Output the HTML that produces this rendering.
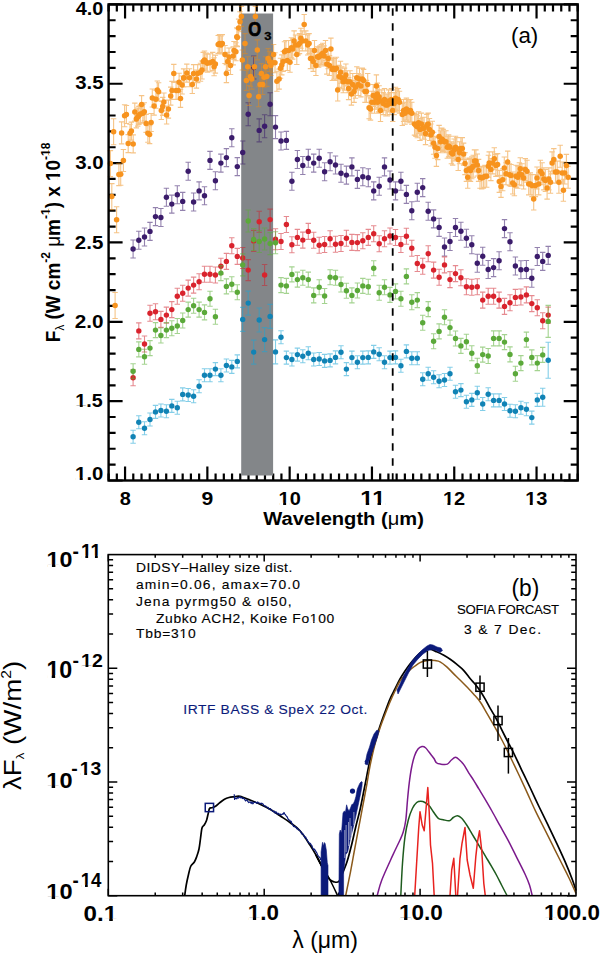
<!DOCTYPE html>
<html><head><meta charset="utf-8"><title>Figure</title>
<style>html,body{margin:0;padding:0;background:#fff;}body{width:600px;height:953px;overflow:hidden;font-family:'Liberation Sans',sans-serif}</style>
</head><body>
<svg width="600" height="953" viewBox="0 0 600 953" style="display:block;font-family:'Liberation Sans',sans-serif">
<rect width="600" height="953" fill="#fff"/>
<path d="M108.6 480.5v-7M108.6 4.4v7M116.83 480.5v-7M116.83 4.4v7M125.06 480.5v-14M125.06 4.4v14M133.29 480.5v-7M133.29 4.4v7M141.52 480.5v-7M141.52 4.4v7M149.75 480.5v-7M149.75 4.4v7M157.98 480.5v-7M157.98 4.4v7M166.21 480.5v-7M166.21 4.4v7M174.44 480.5v-7M174.44 4.4v7M182.67 480.5v-7M182.67 4.4v7M190.9 480.5v-7M190.9 4.4v7M199.13 480.5v-7M199.13 4.4v7M207.36 480.5v-14M207.36 4.4v14M215.59 480.5v-7M215.59 4.4v7M223.82 480.5v-7M223.82 4.4v7M232.05 480.5v-7M232.05 4.4v7M240.28 480.5v-7M240.28 4.4v7M248.51 480.5v-7M248.51 4.4v7M256.74 480.5v-7M256.74 4.4v7M264.97 480.5v-7M264.97 4.4v7M273.2 480.5v-7M273.2 4.4v7M281.43 480.5v-7M281.43 4.4v7M289.66 480.5v-14M289.66 4.4v14M297.89 480.5v-7M297.89 4.4v7M306.12 480.5v-7M306.12 4.4v7M314.35 480.5v-7M314.35 4.4v7M322.58 480.5v-7M322.58 4.4v7M330.81 480.5v-7M330.81 4.4v7M339.04 480.5v-7M339.04 4.4v7M347.26 480.5v-7M347.26 4.4v7M355.49 480.5v-7M355.49 4.4v7M363.72 480.5v-7M363.72 4.4v7M371.95 480.5v-14M371.95 4.4v14M380.18 480.5v-7M380.18 4.4v7M388.41 480.5v-7M388.41 4.4v7M396.64 480.5v-7M396.64 4.4v7M404.87 480.5v-7M404.87 4.4v7M413.1 480.5v-7M413.1 4.4v7M421.33 480.5v-7M421.33 4.4v7M429.56 480.5v-7M429.56 4.4v7M437.79 480.5v-7M437.79 4.4v7M446.02 480.5v-7M446.02 4.4v7M454.25 480.5v-14M454.25 4.4v14M462.48 480.5v-7M462.48 4.4v7M470.71 480.5v-7M470.71 4.4v7M478.94 480.5v-7M478.94 4.4v7M487.17 480.5v-7M487.17 4.4v7M495.4 480.5v-7M495.4 4.4v7M503.63 480.5v-7M503.63 4.4v7M511.86 480.5v-7M511.86 4.4v7M520.09 480.5v-7M520.09 4.4v7M528.32 480.5v-7M528.32 4.4v7M536.55 480.5v-14M536.55 4.4v14M544.78 480.5v-7M544.78 4.4v7M553.01 480.5v-7M553.01 4.4v7M561.24 480.5v-7M561.24 4.4v7M569.47 480.5v-7M569.47 4.4v7M577.7 480.5v-7M577.7 4.4v7M108.6 480.5h14M577.7 480.5h-14M108.6 464.63h7M577.7 464.63h-7M108.6 448.76h7M577.7 448.76h-7M108.6 432.89h7M577.7 432.89h-7M108.6 417.02h7M577.7 417.02h-7M108.6 401.15h14M577.7 401.15h-14M108.6 385.28h7M577.7 385.28h-7M108.6 369.41h7M577.7 369.41h-7M108.6 353.54h7M577.7 353.54h-7M108.6 337.67h7M577.7 337.67h-7M108.6 321.8h14M577.7 321.8h-14M108.6 305.93h7M577.7 305.93h-7M108.6 290.06h7M577.7 290.06h-7M108.6 274.19h7M577.7 274.19h-7M108.6 258.32h7M577.7 258.32h-7M108.6 242.45h14M577.7 242.45h-14M108.6 226.58h7M577.7 226.58h-7M108.6 210.71h7M577.7 210.71h-7M108.6 194.84h7M577.7 194.84h-7M108.6 178.97h7M577.7 178.97h-7M108.6 163.1h14M577.7 163.1h-14M108.6 147.23h7M577.7 147.23h-7M108.6 131.36h7M577.7 131.36h-7M108.6 115.49h7M577.7 115.49h-7M108.6 99.62h7M577.7 99.62h-7M108.6 83.75h14M577.7 83.75h-14M108.6 67.88h7M577.7 67.88h-7M108.6 52.01h7M577.7 52.01h-7M108.6 36.14h7M577.7 36.14h-7M108.6 20.27h7M577.7 20.27h-7M108.6 4.4h14M577.7 4.4h-14" stroke="#000" stroke-width="2.2" fill="none"/>
<rect x="241.2" y="13.5" width="31.9" height="462" fill="#838689"/>
<path d="M133.1 240v18M130.4 240h5.4M130.4 258h5.4M138.8 231.2v18M136.1 231.2h5.4M136.1 249.2h5.4M144.5 228v18M141.8 228h5.4M141.8 246h5.4M150 222.4v18M147.3 222.4h5.4M147.3 240.4h5.4M155.5 207.6v18M152.8 207.6h5.4M152.8 225.6h5.4M160.9 208.5v18M158.2 208.5h5.4M158.2 226.5h5.4M166.4 188.2v18M163.7 188.2h5.4M163.7 206.2h5.4M171.8 195.1v18M169.1 195.1h5.4M169.1 213.1h5.4M177.3 185.7v18M174.6 185.7h5.4M174.6 203.7h5.4M182.7 192.4v18M180 192.4h5.4M180 210.4h5.4M188.2 162.3v18M185.5 162.3h5.4M185.5 180.3h5.4M193.6 193v18M190.9 193h5.4M190.9 211h5.4M199.1 181.9v18M196.4 181.9h5.4M196.4 199.9h5.4M204.5 186.8v18M201.8 186.8h5.4M201.8 204.8h5.4M210 151.4v18M207.3 151.4h5.4M207.3 169.4h5.4M215.4 171.8v18M212.7 171.8h5.4M212.7 189.8h5.4M220.9 154.1v18M218.2 154.1h5.4M218.2 172.1h5.4M226.4 148.6v18M223.7 148.6h5.4M223.7 166.6h5.4M231.8 128.7v18M229.1 128.7h5.4M229.1 146.7h5.4M237.3 157.6v18M234.6 157.6h5.4M234.6 175.6h5.4M242.7 141v23M240 141h5.4M240 164h5.4M248.2 102.8v23M245.5 102.8h5.4M245.5 125.8h5.4M253.7 56v23M251 56h5.4M251 79h5.4M259.2 118.9v23M256.5 118.9h5.4M256.5 141.9h5.4M264.6 114.8v23M261.9 114.8h5.4M261.9 137.8h5.4M270.1 92.7v23M267.4 92.7h5.4M267.4 115.7h5.4M275.5 115.6v23M272.8 115.6h5.4M272.8 138.6h5.4M281 132v18M278.3 132h5.4M278.3 150h5.4M286.4 131.4v18M283.7 131.4h5.4M283.7 149.4h5.4M291.9 172.3v18M289.2 172.3h5.4M289.2 190.3h5.4M297.4 150.5v18M294.7 150.5h5.4M294.7 168.5h5.4M302.8 156.5v18M300.1 156.5h5.4M300.1 174.5h5.4M308.3 149.2v18M305.6 149.2h5.4M305.6 167.2h5.4M313.7 154.1v18M311 154.1h5.4M311 172.1h5.4M319.2 149.2v18M316.5 149.2h5.4M316.5 167.2h5.4M324.6 162.8v18M321.9 162.8h5.4M321.9 180.8h5.4M330.1 152.7v18M327.4 152.7h5.4M327.4 170.7h5.4M335.5 156v18M332.8 156h5.4M332.8 174h5.4M341 164.2v18M338.3 164.2h5.4M338.3 182.2h5.4M346.4 166.1v18M343.7 166.1h5.4M343.7 184.1h5.4M351.9 157.9v18M349.2 157.9h5.4M349.2 175.9h5.4M357.4 170.4v18M354.7 170.4h5.4M354.7 188.4h5.4M362.8 167.7v18M360.1 167.7h5.4M360.1 185.7h5.4M368.3 168.8v18M365.6 168.8h5.4M365.6 186.8h5.4M373.7 181.9v18M371 181.9h5.4M371 199.9h5.4M379.2 177.3v18M376.5 177.3h5.4M376.5 195.3h5.4M384.5 157.9v18M381.8 157.9h5.4M381.8 175.9h5.4M390 171v18M387.3 171h5.4M387.3 189h5.4M395.5 181.9v18M392.8 181.9h5.4M392.8 199.9h5.4M400.9 172.3v18M398.2 172.3h5.4M398.2 190.3h5.4M406.4 185.4v18M403.7 185.4h5.4M403.7 203.4h5.4M411.8 201.7v18M409.1 201.7h5.4M409.1 219.7h5.4M417.3 183.3v18M414.6 183.3h5.4M414.6 201.3h5.4M422.7 178.6v18M420 178.6h5.4M420 196.6h5.4M428.2 202.2v18M425.5 202.2h5.4M425.5 220.2h5.4M433.6 209.9v18M430.9 209.9h5.4M430.9 227.9h5.4M439.1 218.4v18M436.4 218.4h5.4M436.4 236.4h5.4M444.5 238v18M441.8 238h5.4M441.8 256h5.4M450 232.5v18M447.3 232.5h5.4M447.3 250.5h5.4M455.5 218.5v18M452.8 218.5h5.4M452.8 236.5h5.4M460.9 222.2v18M458.2 222.2h5.4M458.2 240.2h5.4M466.4 229.2v18M463.7 229.2h5.4M463.7 247.2h5.4M471.8 235.8v18M469.1 235.8h5.4M469.1 253.8h5.4M477.3 254.3v18M474.6 254.3h5.4M474.6 272.3h5.4M482.7 247.2v18M480 247.2h5.4M480 265.2h5.4M488.2 260.5v18M485.5 260.5h5.4M485.5 278.5h5.4M493.6 258.6v18M490.9 258.6h5.4M490.9 276.6h5.4M499.1 251.8v18M496.4 251.8h5.4M496.4 269.8h5.4M504.5 219.6v18M501.8 219.6h5.4M501.8 237.6h5.4M510 232.7v18M507.3 232.7h5.4M507.3 250.7h5.4M515.4 257v18M512.7 257h5.4M512.7 275h5.4M520.9 260.8v18M518.2 260.8h5.4M518.2 278.8h5.4M526.4 260.5v18M523.7 260.5h5.4M523.7 278.5h5.4M531.8 269.3v18M529.1 269.3h5.4M529.1 287.3h5.4M537.3 247.5v18M534.6 247.5h5.4M534.6 265.5h5.4M542.7 252.4v18M540 252.4h5.4M540 270.4h5.4M548.2 246.4v18M545.5 246.4h5.4M545.5 264.4h5.4" stroke="#3b1c6b" stroke-opacity="0.55" stroke-width="1.1" fill="none"/><g fill="#3b1c6b"><circle cx="133.1" cy="249" r="2.7"/><circle cx="138.8" cy="240.2" r="2.7"/><circle cx="144.5" cy="237" r="2.7"/><circle cx="150" cy="231.4" r="2.7"/><circle cx="155.5" cy="216.6" r="2.7"/><circle cx="160.9" cy="217.5" r="2.7"/><circle cx="166.4" cy="197.2" r="2.7"/><circle cx="171.8" cy="204.1" r="2.7"/><circle cx="177.3" cy="194.7" r="2.7"/><circle cx="182.7" cy="201.4" r="2.7"/><circle cx="188.2" cy="171.3" r="2.7"/><circle cx="193.6" cy="202" r="2.7"/><circle cx="199.1" cy="190.9" r="2.7"/><circle cx="204.5" cy="195.8" r="2.7"/><circle cx="210" cy="160.4" r="2.7"/><circle cx="215.4" cy="180.8" r="2.7"/><circle cx="220.9" cy="163.1" r="2.7"/><circle cx="226.4" cy="157.6" r="2.7"/><circle cx="231.8" cy="137.7" r="2.7"/><circle cx="237.3" cy="166.6" r="2.7"/><circle cx="242.7" cy="152.5" r="2.7"/><circle cx="248.2" cy="114.3" r="2.7"/><circle cx="253.7" cy="67.5" r="2.7"/><circle cx="259.2" cy="130.4" r="2.7"/><circle cx="264.6" cy="126.3" r="2.7"/><circle cx="270.1" cy="104.2" r="2.7"/><circle cx="275.5" cy="127.1" r="2.7"/><circle cx="281" cy="141" r="2.7"/><circle cx="286.4" cy="140.4" r="2.7"/><circle cx="291.9" cy="181.3" r="2.7"/><circle cx="297.4" cy="159.5" r="2.7"/><circle cx="302.8" cy="165.5" r="2.7"/><circle cx="308.3" cy="158.2" r="2.7"/><circle cx="313.7" cy="163.1" r="2.7"/><circle cx="319.2" cy="158.2" r="2.7"/><circle cx="324.6" cy="171.8" r="2.7"/><circle cx="330.1" cy="161.7" r="2.7"/><circle cx="335.5" cy="165" r="2.7"/><circle cx="341" cy="173.2" r="2.7"/><circle cx="346.4" cy="175.1" r="2.7"/><circle cx="351.9" cy="166.9" r="2.7"/><circle cx="357.4" cy="179.4" r="2.7"/><circle cx="362.8" cy="176.7" r="2.7"/><circle cx="368.3" cy="177.8" r="2.7"/><circle cx="373.7" cy="190.9" r="2.7"/><circle cx="379.2" cy="186.3" r="2.7"/><circle cx="384.5" cy="166.9" r="2.7"/><circle cx="390" cy="180" r="2.7"/><circle cx="395.5" cy="190.9" r="2.7"/><circle cx="400.9" cy="181.3" r="2.7"/><circle cx="406.4" cy="194.4" r="2.7"/><circle cx="411.8" cy="210.7" r="2.7"/><circle cx="417.3" cy="192.3" r="2.7"/><circle cx="422.7" cy="187.6" r="2.7"/><circle cx="428.2" cy="211.2" r="2.7"/><circle cx="433.6" cy="218.9" r="2.7"/><circle cx="439.1" cy="227.4" r="2.7"/><circle cx="444.5" cy="247" r="2.7"/><circle cx="450" cy="241.5" r="2.7"/><circle cx="455.5" cy="227.5" r="2.7"/><circle cx="460.9" cy="231.2" r="2.7"/><circle cx="466.4" cy="238.2" r="2.7"/><circle cx="471.8" cy="244.8" r="2.7"/><circle cx="477.3" cy="263.3" r="2.7"/><circle cx="482.7" cy="256.2" r="2.7"/><circle cx="488.2" cy="269.5" r="2.7"/><circle cx="493.6" cy="267.6" r="2.7"/><circle cx="499.1" cy="260.8" r="2.7"/><circle cx="504.5" cy="228.6" r="2.7"/><circle cx="510" cy="241.7" r="2.7"/><circle cx="515.4" cy="266" r="2.7"/><circle cx="520.9" cy="269.8" r="2.7"/><circle cx="526.4" cy="269.5" r="2.7"/><circle cx="531.8" cy="278.3" r="2.7"/><circle cx="537.3" cy="256.5" r="2.7"/><circle cx="542.7" cy="261.4" r="2.7"/><circle cx="548.2" cy="255.4" r="2.7"/></g><path d="M110.4 150.6v26M107.7 150.6h5.4M107.7 176.6h5.4M111.8 183.6v26M109.1 183.6h5.4M109.1 209.6h5.4M113.6 118.8v26M110.9 118.8h5.4M110.9 144.8h5.4M115.1 292.5v26M112.4 292.5h5.4M112.4 318.5h5.4M116.6 206.8v26M113.9 206.8h5.4M113.9 232.8h5.4M118.9 163.6v22M116.2 163.6h5.4M116.2 185.6h5.4M120.7 163.3v22M118 163.3h5.4M118 185.3h5.4M121.6 121.9v22M118.9 121.9h5.4M118.9 143.9h5.4M123.4 149.5v22M120.7 149.5h5.4M120.7 171.5h5.4M124.6 104.7v22M121.9 104.7h5.4M121.9 126.7h5.4M126.4 105.5v18M123.7 105.5h5.4M123.7 123.5h5.4M128.2 134.6v18M125.5 134.6h5.4M125.5 152.6h5.4M130 124.2v18M127.3 124.2h5.4M127.3 142.2h5.4M131.4 122.1v18M128.7 122.1h5.4M128.7 140.1h5.4M133.2 134.9v18M130.5 134.9h5.4M130.5 152.9h5.4M134.8 103.1v18M132.1 103.1h5.4M132.1 121.1h5.4M136.3 109.9v18M133.6 109.9h5.4M133.6 127.9h5.4M137.7 108.1v18M135 108.1h5.4M135 126.1h5.4M138.9 106.4v18M136.2 106.4h5.4M136.2 124.4h5.4M140.4 105.1v18M137.7 105.1h5.4M137.7 123.1h5.4M141.6 95.6v18M138.9 95.6h5.4M138.9 113.6h5.4M142.9 104.2v18M140.2 104.2h5.4M140.2 122.2h5.4M144.3 102.8v18M141.6 102.8h5.4M141.6 120.8h5.4M146.1 114.4v18M143.4 114.4h5.4M143.4 132.4h5.4M147.9 124.2v18M145.2 124.2h5.4M145.2 142.2h5.4M149.6 125.6v18M146.9 125.6h5.4M146.9 143.6h5.4M151.1 113.5v18M148.4 113.5h5.4M148.4 131.5h5.4M152.3 89v18M149.6 89h5.4M149.6 107h5.4M154.1 97.1v18M151.4 97.1h5.4M151.4 115.1h5.4M155.9 90.3v18M153.2 90.3h5.4M153.2 108.3h5.4M157.3 81v18M154.6 81h5.4M154.6 99h5.4M158.6 82.8v18M155.9 82.8h5.4M155.9 100.8h5.4M161.3 101.5v18M158.6 101.5h5.4M158.6 119.5h5.4M162.7 97.4v18M160 97.4h5.4M160 115.4h5.4M163.9 93v18M161.2 93h5.4M161.2 111h5.4M166.6 106v18M163.9 106h5.4M163.9 124h5.4M168.4 100.1v18M165.7 100.1h5.4M165.7 118.1h5.4M170.7 87.1v18M168 87.1h5.4M168 105.1h5.4M172 81.4v18M169.3 81.4h5.4M169.3 99.4h5.4M173.8 64.4v18M171.1 64.4h5.4M171.1 82.4h5.4M176.1 81.4v18M173.4 81.4h5.4M173.4 99.4h5.4M178.2 81.4v18M175.5 81.4h5.4M175.5 99.4h5.4M179.1 73.3v18M176.4 73.3h5.4M176.4 91.3h5.4M180.5 89.4v18M177.8 89.4h5.4M177.8 107.4h5.4M182.1 76v18M179.4 76h5.4M179.4 94h5.4M183.6 68.9v18M180.9 68.9h5.4M180.9 86.9h5.4M184.1 68.7v18M181.4 68.7h5.4M181.4 86.7h5.4M186.8 64.1v18M184.1 64.1h5.4M184.1 82.1h5.4M189.5 68.7v18M186.8 68.7h5.4M186.8 86.7h5.4M192.3 75.5v18M189.6 75.5h5.4M189.6 93.5h5.4M193.6 64.6v18M190.9 64.6h5.4M190.9 82.6h5.4M196.4 70.1v18M193.7 70.1h5.4M193.7 88.1h5.4M197.7 64.6v18M195 64.6h5.4M195 82.6h5.4M200.5 63.3v18M197.8 63.3h5.4M197.8 81.3h5.4M202 61v18M199.3 61h5.4M199.3 79h5.4M203.2 52.4v18M200.5 52.4h5.4M200.5 70.4h5.4M204.5 51v18M201.8 51h5.4M201.8 69h5.4M206 53v18M203.3 53h5.4M203.3 71h5.4M207.3 54.3v18M204.6 54.3h5.4M204.6 72.3h5.4M210 53.7v18M207.3 53.7h5.4M207.3 71.7h5.4M212.7 52.4v18M210 52.4h5.4M210 70.4h5.4M214.1 57.8v18M211.4 57.8h5.4M211.4 75.8h5.4M215.4 55.1v18M212.7 55.1h5.4M212.7 73.1h5.4M218.2 35.5v18M215.5 35.5h5.4M215.5 53.5h5.4M219.5 34.6v18M216.8 34.6h5.4M216.8 52.6h5.4M221 36v18M218.3 36h5.4M218.3 54h5.4M222.3 34.6v18M219.6 34.6h5.4M219.6 52.6h5.4M225 45.5v18M222.3 45.5h5.4M222.3 63.5h5.4M226.4 64.6v18M223.7 64.6h5.4M223.7 82.6h5.4M227.7 52.4v18M225 52.4h5.4M225 70.4h5.4M229 48v18M226.3 48h5.4M226.3 66h5.4M230.5 56.5v18M227.8 56.5h5.4M227.8 74.5h5.4M233.2 46.9v18M230.5 46.9h5.4M230.5 64.9h5.4M235.9 42.8v18M233.2 42.8h5.4M233.2 60.8h5.4M237.3 28.6v18M234.6 28.6h5.4M234.6 46.6h5.4M238.6 19.1v18M235.9 19.1h5.4M235.9 37.1h5.4M240 11.8v20M237.3 11.8h5.4M237.3 31.8h5.4M241.4 6.4v20M238.7 6.4h5.4M238.7 26.4h5.4M234 41.5v18M231.3 41.5h5.4M231.3 59.5h5.4M236.8 27.8v18M234.1 27.8h5.4M234.1 45.8h5.4M242.3 50v20M239.6 50h5.4M239.6 70h5.4M245 33.6v20M242.3 33.6h5.4M242.3 53.6h5.4M246.4 70.4v20M243.7 70.4h5.4M243.7 90.4h5.4M247.7 56.8v20M245 56.8h5.4M245 76.8h5.4M249.1 85.5v20M246.4 85.5h5.4M246.4 105.5h5.4M250.5 66.4v20M247.8 66.4h5.4M247.8 86.4h5.4M251.8 69.1v20M249.1 69.1h5.4M249.1 89.1h5.4M254.5 56.8v20M251.8 56.8h5.4M251.8 76.8h5.4M255.4 6.4v20M252.7 6.4h5.4M252.7 26.4h5.4M257.3 39.9v20M254.6 39.9h5.4M254.6 59.9h5.4M258.6 86.8v20M255.9 86.8h5.4M255.9 106.8h5.4M260 74.5v20M257.3 74.5h5.4M257.3 94.5h5.4M261.4 63.6v20M258.7 63.6h5.4M258.7 83.6h5.4M262.7 74.5v20M260 74.5h5.4M260 94.5h5.4M264.1 67.2v20M261.4 67.2h5.4M261.4 87.2h5.4M265.5 56.8v20M262.8 56.8h5.4M262.8 76.8h5.4M266.8 66.4v20M264.1 66.4h5.4M264.1 86.4h5.4M268.2 48.6v20M265.5 48.6h5.4M265.5 68.6h5.4M269.5 51.4v20M266.8 51.4h5.4M266.8 71.4h5.4M270.9 55.5v20M268.2 55.5h5.4M268.2 75.5h5.4M272.3 52.7v20M269.6 52.7h5.4M269.6 72.7h5.4M273.6 44.5v20M270.9 44.5h5.4M270.9 64.5h5.4M275 52.7v20M272.3 52.7h5.4M272.3 72.7h5.4M276.9 71.3v20M274.2 71.3h5.4M274.2 91.3h5.4M279.1 69.1v20M276.4 69.1h5.4M276.4 89.1h5.4M280.5 58.2v20M277.8 58.2h5.4M277.8 78.2h5.4M281.8 54.9v20M279.1 54.9h5.4M279.1 74.9h5.4M283.2 51.4v20M280.5 51.4h5.4M280.5 71.4h5.4M284.5 41.8v20M281.8 41.8h5.4M281.8 61.8h5.4M285.9 40.5v20M283.2 40.5h5.4M283.2 60.5h5.4M287.3 50.5v20M284.6 50.5h5.4M284.6 70.5h5.4M288.6 40.5v20M285.9 40.5h5.4M285.9 60.5h5.4M290 52.2v20M287.3 52.2h5.4M287.3 72.2h5.4M291.4 37.7v20M288.7 37.7h5.4M288.7 57.7h5.4M292.7 39.1v20M290 39.1h5.4M290 59.1h5.4M294.1 30.9v20M291.4 30.9h5.4M291.4 50.9h5.4M295.5 35v20M292.8 35h5.4M292.8 55h5.4M296.8 44.5v20M294.1 44.5h5.4M294.1 64.5h5.4M298.2 35v20M295.5 35h5.4M295.5 55h5.4M299.5 33.6v20M296.8 33.6h5.4M296.8 53.6h5.4M300.9 28.2v20M298.2 28.2h5.4M298.2 48.2h5.4M302.3 30.9v20M299.6 30.9h5.4M299.6 50.9h5.4M304.2 14.5v20M301.5 14.5h5.4M301.5 34.5h5.4M305.8 30.9v20M303.1 30.9h5.4M303.1 50.9h5.4M307.7 35v20M305 35h5.4M305 55h5.4M309.1 33.6v20M306.4 33.6h5.4M306.4 53.6h5.4M310.5 48.6v20M307.8 48.6h5.4M307.8 68.6h5.4M311.8 48.6v20M309.1 48.6h5.4M309.1 68.6h5.4M313.2 51.4v20M310.5 51.4h5.4M310.5 71.4h5.4M314.5 40.5v20M311.8 40.5h5.4M311.8 60.5h5.4M315.9 55.5v20M313.2 55.5h5.4M313.2 75.5h5.4M317.3 46.7v20M314.6 46.7h5.4M314.6 66.7h5.4M318.6 47.3v20M315.9 47.3h5.4M315.9 67.3h5.4M320 45.9v20M317.3 45.9h5.4M317.3 65.9h5.4M321.4 44.5v20M318.7 44.5h5.4M318.7 64.5h5.4M322.7 43.2v20M320 43.2h5.4M320 63.2h5.4M324.1 45.9v20M321.4 45.9h5.4M321.4 65.9h5.4M325.5 40.5v20M322.8 40.5h5.4M322.8 60.5h5.4M326.8 54.1v20M324.1 54.1h5.4M324.1 74.1h5.4M328.2 48.6v20M325.5 48.6h5.4M325.5 68.6h5.4M329.5 55.5v20M326.8 55.5h5.4M326.8 75.5h5.4M330.9 38.1v22M328.2 38.1h5.4M328.2 60.1h5.4M332.3 58.5v22M329.6 58.5h5.4M329.6 80.5h5.4M333.6 57.2v22M330.9 57.2h5.4M330.9 79.2h5.4M335 58.5v22M332.3 58.5h5.4M332.3 80.5h5.4M336.4 57.2v22M333.7 57.2h5.4M333.7 79.2h5.4M337.7 79v22M335 79h5.4M335 101h5.4M339.1 65.4v22M336.4 65.4h5.4M336.4 87.4h5.4M340.5 61.3v22M337.8 61.3h5.4M337.8 83.3h5.4M341.8 66.7v22M339.1 66.7h5.4M339.1 88.7h5.4M343.2 70.8v22M340.5 70.8h5.4M340.5 92.8h5.4M344.5 68.1v22M341.8 68.1h5.4M341.8 90.1h5.4M345.9 64v22M343.2 64h5.4M343.2 86h5.4M347.3 70.8v22M344.6 70.8h5.4M344.6 92.8h5.4M348.6 77.6v22M345.9 77.6h5.4M345.9 99.6h5.4M350 70.8v22M347.3 70.8h5.4M347.3 92.8h5.4M351.4 83.1v22M348.7 83.1h5.4M348.7 105.1h5.4M352.7 73.5v22M350 73.5h5.4M350 95.5h5.4M354.1 80.4v22M351.4 80.4h5.4M351.4 102.4h5.4M355.5 76.3v22M352.8 76.3h5.4M352.8 98.3h5.4M356.8 66.7v22M354.1 66.7h5.4M354.1 88.7h5.4M358.2 73.5v22M355.5 73.5h5.4M355.5 95.5h5.4M359.5 68.1v22M356.8 68.1h5.4M356.8 90.1h5.4M360.9 74.9v22M358.2 74.9h5.4M358.2 96.9h5.4M362.3 68.1v22M359.6 68.1h5.4M359.6 90.1h5.4M363.6 69.4v22M360.9 69.4h5.4M360.9 91.4h5.4M365 80.4v22M362.3 80.4h5.4M362.3 102.4h5.4M366.4 80.4v22M363.7 80.4h5.4M363.7 102.4h5.4M367.7 73.5v22M365 73.5h5.4M365 95.5h5.4M369.1 96.7v22M366.4 96.7h5.4M366.4 118.7h5.4M370.5 98.1v22M367.8 98.1h5.4M367.8 120.1h5.4M371.8 91.3v22M369.1 91.3h5.4M369.1 113.3h5.4M373.2 84.5v22M370.5 84.5h5.4M370.5 106.5h5.4M374.5 91.3v22M371.8 91.3h5.4M371.8 113.3h5.4M375.9 87.2v22M373.2 87.2h5.4M373.2 109.2h5.4M377.3 83.1v22M374.6 83.1h5.4M374.6 105.1h5.4M378.6 89.9v22M375.9 89.9h5.4M375.9 111.9h5.4M376.4 74.9v22M373.7 74.9h5.4M373.7 96.9h5.4M377.7 91.3v22M375 91.3h5.4M375 113.3h5.4M379.1 85.8v22M376.4 85.8h5.4M376.4 107.8h5.4M380.5 99.5v22M377.8 99.5h5.4M377.8 121.5h5.4M381.8 89.9v22M379.1 89.9h5.4M379.1 111.9h5.4M383.2 92.6v22M380.5 92.6h5.4M380.5 114.6h5.4M384.5 88.5v22M381.8 88.5h5.4M381.8 110.5h5.4M385.9 94v22M383.2 94h5.4M383.2 116h5.4M387.3 94v22M384.6 94h5.4M384.6 116h5.4M388.6 89.9v22M385.9 89.9h5.4M385.9 111.9h5.4M390 92.6v22M387.3 92.6h5.4M387.3 114.6h5.4M391.4 88.5v22M388.7 88.5h5.4M388.7 110.5h5.4M392.7 99.5v22M390 99.5h5.4M390 121.5h5.4M394.1 92.6v22M391.4 92.6h5.4M391.4 114.6h5.4M395.5 87.2v22M392.8 87.2h5.4M392.8 109.2h5.4M396.8 89.9v22M394.1 89.9h5.4M394.1 111.9h5.4M398.2 88.5v22M395.5 88.5h5.4M395.5 110.5h5.4M399.5 91.3v22M396.8 91.3h5.4M396.8 113.3h5.4M402.3 103.5v22M399.6 103.5h5.4M399.6 125.5h5.4M403.6 99.5v22M400.9 99.5h5.4M400.9 121.5h5.4M405 102.2v22M402.3 102.2h5.4M402.3 124.2h5.4M406.4 98.1v22M403.7 98.1h5.4M403.7 120.1h5.4M407.7 99.5v22M405 99.5h5.4M405 121.5h5.4M409.1 100.8v22M406.4 100.8h5.4M406.4 122.8h5.4M410.5 99.5v22M407.8 99.5h5.4M407.8 121.5h5.4M411.8 102.2v22M409.1 102.2h5.4M409.1 124.2h5.4M414.5 113.1v22M411.8 113.1h5.4M411.8 135.1h5.4M415.9 114.4v22M413.2 114.4h5.4M413.2 136.4h5.4M417.3 115.8v22M414.6 115.8h5.4M414.6 137.8h5.4M418.6 111.7v22M415.9 111.7h5.4M415.9 133.7h5.4M420 118.5v22M417.3 118.5h5.4M417.3 140.5h5.4M421.4 113.1v22M418.7 113.1h5.4M418.7 135.1h5.4M422.7 117.2v22M420 117.2h5.4M420 139.2h5.4M424.1 117.2v22M421.4 117.2h5.4M421.4 139.2h5.4M425.5 122.6v22M422.8 122.6h5.4M422.8 144.6h5.4M426.8 114.4v22M424.1 114.4h5.4M424.1 136.4h5.4M428.2 113.1v22M425.5 113.1h5.4M425.5 135.1h5.4M429.5 118.5v22M426.8 118.5h5.4M426.8 140.5h5.4M430.9 124v22M428.2 124h5.4M428.2 146h5.4M432.3 121.3v22M429.6 121.3h5.4M429.6 143.3h5.4M433.6 132.2v22M430.9 132.2h5.4M430.9 154.2h5.4M435 136.3v22M432.3 136.3h5.4M432.3 158.3h5.4M436.4 144.4v22M433.7 144.4h5.4M433.7 166.4h5.4M437.7 137.6v22M435 137.6h5.4M435 159.6h5.4M439.1 125.4v22M436.4 125.4h5.4M436.4 147.4h5.4M440.5 130.8v22M437.8 130.8h5.4M437.8 152.8h5.4M441.8 128.1v22M439.1 128.1h5.4M439.1 150.1h5.4M443.2 129.4v22M440.5 129.4h5.4M440.5 151.4h5.4M444.5 130.8v22M441.8 130.8h5.4M441.8 152.8h5.4M445.9 130.8v22M443.2 130.8h5.4M443.2 152.8h5.4M447.3 136.3v22M444.6 136.3h5.4M444.6 158.3h5.4M448.6 134.9v22M445.9 134.9h5.4M445.9 156.9h5.4M450 136.3v22M447.3 136.3h5.4M447.3 158.3h5.4M451.4 141.7v22M448.7 141.7h5.4M448.7 163.7h5.4M452.7 143.1v22M450 143.1h5.4M450 165.1h5.4M454.1 139v22M451.4 139h5.4M451.4 161h5.4M455.5 136.3v22M452.8 136.3h5.4M452.8 158.3h5.4M456.8 137.6v22M454.1 137.6h5.4M454.1 159.6h5.4M458.2 148.5v22M455.5 148.5h5.4M455.5 170.5h5.4M459.5 141.7v22M456.8 141.7h5.4M456.8 163.7h5.4M460.9 137.6v22M458.2 137.6h5.4M458.2 159.6h5.4M462.3 137.6v22M459.6 137.6h5.4M459.6 159.6h5.4M463.6 143.1v22M460.9 143.1h5.4M460.9 165.1h5.4M465 152.6v22M462.3 152.6h5.4M462.3 174.6h5.4M466.4 159.4v22M463.7 159.4h5.4M463.7 181.4h5.4M467.7 166.3v22M465 166.3h5.4M465 188.3h5.4M469.1 158.1v22M466.4 158.1h5.4M466.4 180.1h5.4M470.5 159.4v22M467.8 159.4h5.4M467.8 181.4h5.4M471.8 156.7v22M469.1 156.7h5.4M469.1 178.7h5.4M473.2 155.3v22M470.5 155.3h5.4M470.5 177.3h5.4M474.5 149.9v22M471.8 149.9h5.4M471.8 171.9h5.4M475.9 149.9v22M473.2 149.9h5.4M473.2 171.9h5.4M477.3 154v22M474.6 154h5.4M474.6 176h5.4M478.6 159.4v22M475.9 159.4h5.4M475.9 181.4h5.4M480 166.2v22M477.3 166.2h5.4M477.3 188.2h5.4M481.7 167v22M479 167h5.4M479 189h5.4M483.4 166.2v22M480.7 166.2h5.4M480.7 188.2h5.4M485 165.3v22M482.3 165.3h5.4M482.3 187.3h5.4M486.7 165.3v22M484 165.3h5.4M484 187.3h5.4M488.4 155.3v22M485.7 155.3h5.4M485.7 177.3h5.4M489.2 151.9v22M486.5 151.9h5.4M486.5 173.9h5.4M490.9 158.6v22M488.2 158.6h5.4M488.2 180.6h5.4M492.6 151.9v22M489.9 151.9h5.4M489.9 173.9h5.4M494.3 147.7v22M491.6 147.7h5.4M491.6 169.7h5.4M495.9 154.4v22M493.2 154.4h5.4M493.2 176.4h5.4M497.6 153.6v22M494.9 153.6h5.4M494.9 175.6h5.4M499.3 170.4v22M496.6 170.4h5.4M496.6 192.4h5.4M501 175.4v22M498.3 175.4h5.4M498.3 197.4h5.4M502.7 168.7v22M500 168.7h5.4M500 190.7h5.4M504.3 157v22M501.6 157h5.4M501.6 179h5.4M506 162.8v22M503.3 162.8h5.4M503.3 184.8h5.4M507.7 151.1v22M505 151.1h5.4M505 173.1h5.4M509.4 163.7v22M506.7 163.7h5.4M506.7 185.7h5.4M511 164.5v22M508.3 164.5h5.4M508.3 186.5h5.4M512.7 172v22M510 172h5.4M510 194h5.4M514.4 173.7v22M511.7 173.7h5.4M511.7 195.7h5.4M516.1 165.3v22M513.4 165.3h5.4M513.4 187.3h5.4M517.8 166.2v22M515.1 166.2h5.4M515.1 188.2h5.4M519.4 162.8v22M516.7 162.8h5.4M516.7 184.8h5.4M520.3 157.8v22M517.6 157.8h5.4M517.6 179.8h5.4M521.9 163.7v22M519.2 163.7h5.4M519.2 185.7h5.4M523.6 167v22M520.9 167h5.4M520.9 189h5.4M525.3 158.6v22M522.6 158.6h5.4M522.6 180.6h5.4M527 160.3v22M524.3 160.3h5.4M524.3 182.3h5.4M528.7 172.9v22M526 172.9h5.4M526 194.9h5.4M530.3 172.9v22M527.6 172.9h5.4M527.6 194.9h5.4M532 174.6v22M529.3 174.6h5.4M529.3 196.6h5.4M533.7 188v22M531 188h5.4M531 210h5.4M535.4 174.6v22M532.7 174.6h5.4M532.7 196.6h5.4M537 167v22M534.3 167h5.4M534.3 189h5.4M538.7 172.9v22M536 172.9h5.4M536 194.9h5.4M540.4 160.3v22M537.7 160.3h5.4M537.7 182.3h5.4M542.1 162.8v22M539.4 162.8h5.4M539.4 184.8h5.4M543.8 167.9v22M541.1 167.9h5.4M541.1 189.9h5.4M545.4 169.5v22M542.7 169.5h5.4M542.7 191.5h5.4M547.1 177.1v22M544.4 177.1h5.4M544.4 199.1h5.4M548.8 167.9v22M546.1 167.9h5.4M546.1 189.9h5.4M550.5 171.2v22M547.8 171.2h5.4M547.8 193.2h5.4M552.1 151.9v22M549.4 151.9h5.4M549.4 173.9h5.4M553.8 148.6v22M551.1 148.6h5.4M551.1 170.6h5.4M555.5 161.1v22M552.8 161.1h5.4M552.8 183.1h5.4M557.2 161.1v22M554.5 161.1h5.4M554.5 183.1h5.4M558.9 171.2v22M556.2 171.2h5.4M556.2 193.2h5.4M560.2 145.2v22M557.5 145.2h5.4M557.5 167.2h5.4M562.2 162v22M559.5 162h5.4M559.5 184h5.4M563.4 179.3v22M560.7 179.3h5.4M560.7 201.3h5.4M564.7 162v22M562 162h5.4M562 184h5.4M566.4 154.4v22M563.7 154.4h5.4M563.7 176.4h5.4M568.1 166.2v22M565.4 166.2h5.4M565.4 188.2h5.4" stroke="#ee8a10" stroke-opacity="0.5" stroke-width="1.1" fill="none"/><g fill="#f7931e"><circle cx="110.4" cy="163.6" r="2.75"/><circle cx="111.8" cy="196.6" r="2.75"/><circle cx="113.6" cy="131.8" r="2.75"/><circle cx="115.1" cy="305.5" r="2.75"/><circle cx="116.6" cy="219.8" r="2.75"/><circle cx="118.9" cy="174.6" r="2.75"/><circle cx="120.7" cy="174.3" r="2.75"/><circle cx="121.6" cy="132.9" r="2.75"/><circle cx="123.4" cy="160.5" r="2.75"/><circle cx="124.6" cy="115.7" r="2.75"/><circle cx="126.4" cy="114.5" r="2.75"/><circle cx="128.2" cy="143.6" r="2.75"/><circle cx="130" cy="133.2" r="2.75"/><circle cx="131.4" cy="131.1" r="2.75"/><circle cx="133.2" cy="143.9" r="2.75"/><circle cx="134.8" cy="112.1" r="2.75"/><circle cx="136.3" cy="118.9" r="2.75"/><circle cx="137.7" cy="117.1" r="2.75"/><circle cx="138.9" cy="115.4" r="2.75"/><circle cx="140.4" cy="114.1" r="2.75"/><circle cx="141.6" cy="104.6" r="2.75"/><circle cx="142.9" cy="113.2" r="2.75"/><circle cx="144.3" cy="111.8" r="2.75"/><circle cx="146.1" cy="123.4" r="2.75"/><circle cx="147.9" cy="133.2" r="2.75"/><circle cx="149.6" cy="134.6" r="2.75"/><circle cx="151.1" cy="122.5" r="2.75"/><circle cx="152.3" cy="98" r="2.75"/><circle cx="154.1" cy="106.1" r="2.75"/><circle cx="155.9" cy="99.3" r="2.75"/><circle cx="157.3" cy="90" r="2.75"/><circle cx="158.6" cy="91.8" r="2.75"/><circle cx="161.3" cy="110.5" r="2.75"/><circle cx="162.7" cy="106.4" r="2.75"/><circle cx="163.9" cy="102" r="2.75"/><circle cx="166.6" cy="115" r="2.75"/><circle cx="168.4" cy="109.1" r="2.75"/><circle cx="170.7" cy="96.1" r="2.75"/><circle cx="172" cy="90.4" r="2.75"/><circle cx="173.8" cy="73.4" r="2.75"/><circle cx="176.1" cy="90.4" r="2.75"/><circle cx="178.2" cy="90.4" r="2.75"/><circle cx="179.1" cy="82.3" r="2.75"/><circle cx="180.5" cy="98.4" r="2.75"/><circle cx="182.1" cy="85" r="2.75"/><circle cx="183.6" cy="77.9" r="2.75"/><circle cx="184.1" cy="77.7" r="2.75"/><circle cx="186.8" cy="73.1" r="2.75"/><circle cx="189.5" cy="77.7" r="2.75"/><circle cx="192.3" cy="84.5" r="2.75"/><circle cx="193.6" cy="73.6" r="2.75"/><circle cx="196.4" cy="79.1" r="2.75"/><circle cx="197.7" cy="73.6" r="2.75"/><circle cx="200.5" cy="72.3" r="2.75"/><circle cx="202" cy="70" r="2.75"/><circle cx="203.2" cy="61.4" r="2.75"/><circle cx="204.5" cy="60" r="2.75"/><circle cx="206" cy="62" r="2.75"/><circle cx="207.3" cy="63.3" r="2.75"/><circle cx="210" cy="62.7" r="2.75"/><circle cx="212.7" cy="61.4" r="2.75"/><circle cx="214.1" cy="66.8" r="2.75"/><circle cx="215.4" cy="64.1" r="2.75"/><circle cx="218.2" cy="44.5" r="2.75"/><circle cx="219.5" cy="43.6" r="2.75"/><circle cx="221" cy="45" r="2.75"/><circle cx="222.3" cy="43.6" r="2.75"/><circle cx="225" cy="54.5" r="2.75"/><circle cx="226.4" cy="73.6" r="2.75"/><circle cx="227.7" cy="61.4" r="2.75"/><circle cx="229" cy="57" r="2.75"/><circle cx="230.5" cy="65.5" r="2.75"/><circle cx="233.2" cy="55.9" r="2.75"/><circle cx="235.9" cy="51.8" r="2.75"/><circle cx="237.3" cy="37.6" r="2.75"/><circle cx="238.6" cy="28.1" r="2.75"/><circle cx="240" cy="21.8" r="2.75"/><circle cx="241.4" cy="16.4" r="2.75"/><circle cx="234" cy="50.5" r="2.75"/><circle cx="236.8" cy="36.8" r="2.75"/><circle cx="242.3" cy="60" r="2.75"/><circle cx="245" cy="43.6" r="2.75"/><circle cx="246.4" cy="80.4" r="2.75"/><circle cx="247.7" cy="66.8" r="2.75"/><circle cx="249.1" cy="95.5" r="2.75"/><circle cx="250.5" cy="76.4" r="2.75"/><circle cx="251.8" cy="79.1" r="2.75"/><circle cx="254.5" cy="66.8" r="2.75"/><circle cx="255.4" cy="16.4" r="2.75"/><circle cx="257.3" cy="49.9" r="2.75"/><circle cx="258.6" cy="96.8" r="2.75"/><circle cx="260" cy="84.5" r="2.75"/><circle cx="261.4" cy="73.6" r="2.75"/><circle cx="262.7" cy="84.5" r="2.75"/><circle cx="264.1" cy="77.2" r="2.75"/><circle cx="265.5" cy="66.8" r="2.75"/><circle cx="266.8" cy="76.4" r="2.75"/><circle cx="268.2" cy="58.6" r="2.75"/><circle cx="269.5" cy="61.4" r="2.75"/><circle cx="270.9" cy="65.5" r="2.75"/><circle cx="272.3" cy="62.7" r="2.75"/><circle cx="273.6" cy="54.5" r="2.75"/><circle cx="275" cy="62.7" r="2.75"/><circle cx="276.9" cy="81.3" r="2.75"/><circle cx="279.1" cy="79.1" r="2.75"/><circle cx="280.5" cy="68.2" r="2.75"/><circle cx="281.8" cy="64.9" r="2.75"/><circle cx="283.2" cy="61.4" r="2.75"/><circle cx="284.5" cy="51.8" r="2.75"/><circle cx="285.9" cy="50.5" r="2.75"/><circle cx="287.3" cy="60.5" r="2.75"/><circle cx="288.6" cy="50.5" r="2.75"/><circle cx="290" cy="62.2" r="2.75"/><circle cx="291.4" cy="47.7" r="2.75"/><circle cx="292.7" cy="49.1" r="2.75"/><circle cx="294.1" cy="40.9" r="2.75"/><circle cx="295.5" cy="45" r="2.75"/><circle cx="296.8" cy="54.5" r="2.75"/><circle cx="298.2" cy="45" r="2.75"/><circle cx="299.5" cy="43.6" r="2.75"/><circle cx="300.9" cy="38.2" r="2.75"/><circle cx="302.3" cy="40.9" r="2.75"/><circle cx="304.2" cy="24.5" r="2.75"/><circle cx="305.8" cy="40.9" r="2.75"/><circle cx="307.7" cy="45" r="2.75"/><circle cx="309.1" cy="43.6" r="2.75"/><circle cx="310.5" cy="58.6" r="2.75"/><circle cx="311.8" cy="58.6" r="2.75"/><circle cx="313.2" cy="61.4" r="2.75"/><circle cx="314.5" cy="50.5" r="2.75"/><circle cx="315.9" cy="65.5" r="2.75"/><circle cx="317.3" cy="56.7" r="2.75"/><circle cx="318.6" cy="57.3" r="2.75"/><circle cx="320" cy="55.9" r="2.75"/><circle cx="321.4" cy="54.5" r="2.75"/><circle cx="322.7" cy="53.2" r="2.75"/><circle cx="324.1" cy="55.9" r="2.75"/><circle cx="325.5" cy="50.5" r="2.75"/><circle cx="326.8" cy="64.1" r="2.75"/><circle cx="328.2" cy="58.6" r="2.75"/><circle cx="329.5" cy="65.5" r="2.75"/><circle cx="330.9" cy="49.1" r="2.75"/><circle cx="332.3" cy="69.5" r="2.75"/><circle cx="333.6" cy="68.2" r="2.75"/><circle cx="335" cy="69.5" r="2.75"/><circle cx="336.4" cy="68.2" r="2.75"/><circle cx="337.7" cy="90" r="2.75"/><circle cx="339.1" cy="76.4" r="2.75"/><circle cx="340.5" cy="72.3" r="2.75"/><circle cx="341.8" cy="77.7" r="2.75"/><circle cx="343.2" cy="81.8" r="2.75"/><circle cx="344.5" cy="79.1" r="2.75"/><circle cx="345.9" cy="75" r="2.75"/><circle cx="347.3" cy="81.8" r="2.75"/><circle cx="348.6" cy="88.6" r="2.75"/><circle cx="350" cy="81.8" r="2.75"/><circle cx="351.4" cy="94.1" r="2.75"/><circle cx="352.7" cy="84.5" r="2.75"/><circle cx="354.1" cy="91.4" r="2.75"/><circle cx="355.5" cy="87.3" r="2.75"/><circle cx="356.8" cy="77.7" r="2.75"/><circle cx="358.2" cy="84.5" r="2.75"/><circle cx="359.5" cy="79.1" r="2.75"/><circle cx="360.9" cy="85.9" r="2.75"/><circle cx="362.3" cy="79.1" r="2.75"/><circle cx="363.6" cy="80.4" r="2.75"/><circle cx="365" cy="91.4" r="2.75"/><circle cx="366.4" cy="91.4" r="2.75"/><circle cx="367.7" cy="84.5" r="2.75"/><circle cx="369.1" cy="107.7" r="2.75"/><circle cx="370.5" cy="109.1" r="2.75"/><circle cx="371.8" cy="102.3" r="2.75"/><circle cx="373.2" cy="95.5" r="2.75"/><circle cx="374.5" cy="102.3" r="2.75"/><circle cx="375.9" cy="98.2" r="2.75"/><circle cx="377.3" cy="94.1" r="2.75"/><circle cx="378.6" cy="100.9" r="2.75"/><circle cx="376.4" cy="85.9" r="2.75"/><circle cx="377.7" cy="102.3" r="2.75"/><circle cx="379.1" cy="96.8" r="2.75"/><circle cx="380.5" cy="110.5" r="2.75"/><circle cx="381.8" cy="100.9" r="2.75"/><circle cx="383.2" cy="103.6" r="2.75"/><circle cx="384.5" cy="99.5" r="2.75"/><circle cx="385.9" cy="105" r="2.75"/><circle cx="387.3" cy="105" r="2.75"/><circle cx="388.6" cy="100.9" r="2.75"/><circle cx="390" cy="103.6" r="2.75"/><circle cx="391.4" cy="99.5" r="2.75"/><circle cx="392.7" cy="110.5" r="2.75"/><circle cx="394.1" cy="103.6" r="2.75"/><circle cx="395.5" cy="98.2" r="2.75"/><circle cx="396.8" cy="100.9" r="2.75"/><circle cx="398.2" cy="99.5" r="2.75"/><circle cx="399.5" cy="102.3" r="2.75"/><circle cx="402.3" cy="114.5" r="2.75"/><circle cx="403.6" cy="110.5" r="2.75"/><circle cx="405" cy="113.2" r="2.75"/><circle cx="406.4" cy="109.1" r="2.75"/><circle cx="407.7" cy="110.5" r="2.75"/><circle cx="409.1" cy="111.8" r="2.75"/><circle cx="410.5" cy="110.5" r="2.75"/><circle cx="411.8" cy="113.2" r="2.75"/><circle cx="414.5" cy="124.1" r="2.75"/><circle cx="415.9" cy="125.4" r="2.75"/><circle cx="417.3" cy="126.8" r="2.75"/><circle cx="418.6" cy="122.7" r="2.75"/><circle cx="420" cy="129.5" r="2.75"/><circle cx="421.4" cy="124.1" r="2.75"/><circle cx="422.7" cy="128.2" r="2.75"/><circle cx="424.1" cy="128.2" r="2.75"/><circle cx="425.5" cy="133.6" r="2.75"/><circle cx="426.8" cy="125.4" r="2.75"/><circle cx="428.2" cy="124.1" r="2.75"/><circle cx="429.5" cy="129.5" r="2.75"/><circle cx="430.9" cy="135" r="2.75"/><circle cx="432.3" cy="132.3" r="2.75"/><circle cx="433.6" cy="143.2" r="2.75"/><circle cx="435" cy="147.3" r="2.75"/><circle cx="436.4" cy="155.4" r="2.75"/><circle cx="437.7" cy="148.6" r="2.75"/><circle cx="439.1" cy="136.4" r="2.75"/><circle cx="440.5" cy="141.8" r="2.75"/><circle cx="441.8" cy="139.1" r="2.75"/><circle cx="443.2" cy="140.4" r="2.75"/><circle cx="444.5" cy="141.8" r="2.75"/><circle cx="445.9" cy="141.8" r="2.75"/><circle cx="447.3" cy="147.3" r="2.75"/><circle cx="448.6" cy="145.9" r="2.75"/><circle cx="450" cy="147.3" r="2.75"/><circle cx="451.4" cy="152.7" r="2.75"/><circle cx="452.7" cy="154.1" r="2.75"/><circle cx="454.1" cy="150" r="2.75"/><circle cx="455.5" cy="147.3" r="2.75"/><circle cx="456.8" cy="148.6" r="2.75"/><circle cx="458.2" cy="159.5" r="2.75"/><circle cx="459.5" cy="152.7" r="2.75"/><circle cx="460.9" cy="148.6" r="2.75"/><circle cx="462.3" cy="148.6" r="2.75"/><circle cx="463.6" cy="154.1" r="2.75"/><circle cx="465" cy="163.6" r="2.75"/><circle cx="466.4" cy="170.4" r="2.75"/><circle cx="467.7" cy="177.3" r="2.75"/><circle cx="469.1" cy="169.1" r="2.75"/><circle cx="470.5" cy="170.4" r="2.75"/><circle cx="471.8" cy="167.7" r="2.75"/><circle cx="473.2" cy="166.3" r="2.75"/><circle cx="474.5" cy="160.9" r="2.75"/><circle cx="475.9" cy="160.9" r="2.75"/><circle cx="477.3" cy="165" r="2.75"/><circle cx="478.6" cy="170.4" r="2.75"/><circle cx="480" cy="177.2" r="2.75"/><circle cx="481.7" cy="178" r="2.75"/><circle cx="483.4" cy="177.2" r="2.75"/><circle cx="485" cy="176.3" r="2.75"/><circle cx="486.7" cy="176.3" r="2.75"/><circle cx="488.4" cy="166.3" r="2.75"/><circle cx="489.2" cy="162.9" r="2.75"/><circle cx="490.9" cy="169.6" r="2.75"/><circle cx="492.6" cy="162.9" r="2.75"/><circle cx="494.3" cy="158.7" r="2.75"/><circle cx="495.9" cy="165.4" r="2.75"/><circle cx="497.6" cy="164.6" r="2.75"/><circle cx="499.3" cy="181.4" r="2.75"/><circle cx="501" cy="186.4" r="2.75"/><circle cx="502.7" cy="179.7" r="2.75"/><circle cx="504.3" cy="168" r="2.75"/><circle cx="506" cy="173.8" r="2.75"/><circle cx="507.7" cy="162.1" r="2.75"/><circle cx="509.4" cy="174.7" r="2.75"/><circle cx="511" cy="175.5" r="2.75"/><circle cx="512.7" cy="183" r="2.75"/><circle cx="514.4" cy="184.7" r="2.75"/><circle cx="516.1" cy="176.3" r="2.75"/><circle cx="517.8" cy="177.2" r="2.75"/><circle cx="519.4" cy="173.8" r="2.75"/><circle cx="520.3" cy="168.8" r="2.75"/><circle cx="521.9" cy="174.7" r="2.75"/><circle cx="523.6" cy="178" r="2.75"/><circle cx="525.3" cy="169.6" r="2.75"/><circle cx="527" cy="171.3" r="2.75"/><circle cx="528.7" cy="183.9" r="2.75"/><circle cx="530.3" cy="183.9" r="2.75"/><circle cx="532" cy="185.6" r="2.75"/><circle cx="533.7" cy="199" r="2.75"/><circle cx="535.4" cy="185.6" r="2.75"/><circle cx="537" cy="178" r="2.75"/><circle cx="538.7" cy="183.9" r="2.75"/><circle cx="540.4" cy="171.3" r="2.75"/><circle cx="542.1" cy="173.8" r="2.75"/><circle cx="543.8" cy="178.9" r="2.75"/><circle cx="545.4" cy="180.5" r="2.75"/><circle cx="547.1" cy="188.1" r="2.75"/><circle cx="548.8" cy="178.9" r="2.75"/><circle cx="550.5" cy="182.2" r="2.75"/><circle cx="552.1" cy="162.9" r="2.75"/><circle cx="553.8" cy="159.6" r="2.75"/><circle cx="555.5" cy="172.1" r="2.75"/><circle cx="557.2" cy="172.1" r="2.75"/><circle cx="558.9" cy="182.2" r="2.75"/><circle cx="560.2" cy="156.2" r="2.75"/><circle cx="562.2" cy="173" r="2.75"/><circle cx="563.4" cy="190.3" r="2.75"/><circle cx="564.7" cy="173" r="2.75"/><circle cx="566.4" cy="165.4" r="2.75"/><circle cx="568.1" cy="177.2" r="2.75"/></g><path d="M133.1 369.8v16M130.4 369.8h5.4M130.4 385.8h5.4M138.8 322.9v16M136.1 322.9h5.4M136.1 338.9h5.4M144.5 336v16M141.8 336h5.4M141.8 352h5.4M150 305.2v16M147.3 305.2h5.4M147.3 321.2h5.4M155.5 303.8v16M152.8 303.8h5.4M152.8 319.8h5.4M160.9 311.4v16M158.2 311.4h5.4M158.2 327.4h5.4M166.4 307.1v16M163.7 307.1h5.4M163.7 323.1h5.4M171.8 301.6v16M169.1 301.6h5.4M169.1 317.6h5.4M177.3 288.3v16M174.6 288.3h5.4M174.6 304.3h5.4M182.7 285.3v16M180 285.3h5.4M180 301.3h5.4M188.2 280.1v16M185.5 280.1h5.4M185.5 296.1h5.4M193.6 277.1v16M190.9 277.1h5.4M190.9 293.1h5.4M199.1 273.8v16M196.4 273.8h5.4M196.4 289.8h5.4M204.5 266.2v16M201.8 266.2h5.4M201.8 282.2h5.4M210 266.2v16M207.3 266.2h5.4M207.3 282.2h5.4M215.4 267v16M212.7 267h5.4M212.7 283h5.4M220.9 258.3v16M218.2 258.3h5.4M218.2 274.3h5.4M226.4 253.4v16M223.7 253.4h5.4M223.7 269.4h5.4M231.8 237.8v16M229.1 237.8h5.4M229.1 253.8h5.4M237.3 248.4v16M234.6 248.4h5.4M234.6 264.4h5.4M242.7 247.5v21M240 247.5h5.4M240 268.5h5.4M248.2 259.6v21M245.5 259.6h5.4M245.5 280.6h5.4M253.7 230.4v21M251 230.4h5.4M251 251.4h5.4M259.2 211.3v21M256.5 211.3h5.4M256.5 232.3h5.4M264.6 264.5v21M261.9 264.5h5.4M261.9 285.5h5.4M270.1 209.1v21M267.4 209.1h5.4M267.4 230.1h5.4M275.5 228.7v21M272.8 228.7h5.4M272.8 249.7h5.4M281 233.5v16M278.3 233.5h5.4M278.3 249.5h5.4M286.4 216.5v16M283.7 216.5h5.4M283.7 232.5h5.4M291.9 236.8v16M289.2 236.8h5.4M289.2 252.8h5.4M297.4 229.4v16M294.7 229.4h5.4M294.7 245.4h5.4M302.8 232.1v16M300.1 232.1h5.4M300.1 248.1h5.4M308.3 223.4v16M305.6 223.4h5.4M305.6 239.4h5.4M313.7 232.2v16M311 232.2h5.4M311 248.2h5.4M319.2 237.2v16M316.5 237.2h5.4M316.5 253.2h5.4M324.6 236.5v16M321.9 236.5h5.4M321.9 252.5h5.4M330.1 230.8v16M327.4 230.8h5.4M327.4 246.8h5.4M335.5 236.2v16M332.8 236.2h5.4M332.8 252.2h5.4M341 235.5v16M338.3 235.5h5.4M338.3 251.5h5.4M346.4 230.2v16M343.7 230.2h5.4M343.7 246.2h5.4M351.9 234.4v16M349.2 234.4h5.4M349.2 250.4h5.4M357.4 234.6v16M354.7 234.6h5.4M354.7 250.6h5.4M362.8 232.7v16M360.1 232.7h5.4M360.1 248.7h5.4M368.3 229.4v16M365.6 229.4h5.4M365.6 245.4h5.4M373.7 225.8v16M371 225.8h5.4M371 241.8h5.4M379.2 235.8v16M376.5 235.8h5.4M376.5 251.8h5.4M384.5 230.8v16M381.8 230.8h5.4M381.8 246.8h5.4M390 228v16M387.3 228h5.4M387.3 244h5.4M395.5 229.5v16M392.8 229.5h5.4M392.8 245.5h5.4M400.9 236.5v16M398.2 236.5h5.4M398.2 252.5h5.4M406.4 228.3v16M403.7 228.3h5.4M403.7 244.3h5.4M411.8 240.3v16M409.1 240.3h5.4M409.1 256.3h5.4M417.3 255.5v16M414.6 255.5h5.4M414.6 271.5h5.4M422.7 258.3v16M420 258.3h5.4M420 274.3h5.4M428.2 245.7v16M425.5 245.7h5.4M425.5 261.7h5.4M433.6 262.1v16M430.9 262.1h5.4M430.9 278.1h5.4M439.1 269.2v16M436.4 269.2h5.4M436.4 285.2h5.4M444.5 256.9v16M441.8 256.9h5.4M441.8 272.9h5.4M450 271.6v16M447.3 271.6h5.4M447.3 287.6h5.4M455.5 265.6v16M452.8 265.6h5.4M452.8 281.6h5.4M460.9 269.7v16M458.2 269.7h5.4M458.2 285.7h5.4M466.4 278.7v16M463.7 278.7h5.4M463.7 294.7h5.4M471.8 279.3v16M469.1 279.3h5.4M469.1 295.3h5.4M477.3 278.7v16M474.6 278.7h5.4M474.6 294.7h5.4M482.7 292.1v16M480 292.1h5.4M480 308.1h5.4M488.2 288.3v16M485.5 288.3h5.4M485.5 304.3h5.4M493.6 288.3v16M490.9 288.3h5.4M490.9 304.3h5.4M499.1 292.1v16M496.4 292.1h5.4M496.4 308.1h5.4M504.5 298.4v16M501.8 298.4h5.4M501.8 314.4h5.4M510 294.8v16M507.3 294.8h5.4M507.3 310.8h5.4M515.4 289.4v16M512.7 289.4h5.4M512.7 305.4h5.4M520.9 289v16M518.2 289h5.4M518.2 305h5.4M526.4 286.9v16M523.7 286.9h5.4M523.7 302.9h5.4M531.8 295.6v16M529.1 295.6h5.4M529.1 311.6h5.4M537.3 299.7v16M534.6 299.7h5.4M534.6 315.7h5.4M542.7 312.8v16M540 312.8h5.4M540 328.8h5.4M548.2 307.1v16M545.5 307.1h5.4M545.5 323.1h5.4" stroke="#cf1f2a" stroke-opacity="0.52" stroke-width="1.1" fill="none"/><g fill="#d9232d"><circle cx="133.1" cy="377.8" r="2.7"/><circle cx="138.8" cy="330.9" r="2.7"/><circle cx="144.5" cy="344" r="2.7"/><circle cx="150" cy="313.2" r="2.7"/><circle cx="155.5" cy="311.8" r="2.7"/><circle cx="160.9" cy="319.4" r="2.7"/><circle cx="166.4" cy="315.1" r="2.7"/><circle cx="171.8" cy="309.6" r="2.7"/><circle cx="177.3" cy="296.3" r="2.7"/><circle cx="182.7" cy="293.3" r="2.7"/><circle cx="188.2" cy="288.1" r="2.7"/><circle cx="193.6" cy="285.1" r="2.7"/><circle cx="199.1" cy="281.8" r="2.7"/><circle cx="204.5" cy="274.2" r="2.7"/><circle cx="210" cy="274.2" r="2.7"/><circle cx="215.4" cy="275" r="2.7"/><circle cx="220.9" cy="266.3" r="2.7"/><circle cx="226.4" cy="261.4" r="2.7"/><circle cx="231.8" cy="245.8" r="2.7"/><circle cx="237.3" cy="256.4" r="2.7"/><circle cx="242.7" cy="258" r="2.7"/><circle cx="248.2" cy="270.1" r="2.7"/><circle cx="253.7" cy="240.9" r="2.7"/><circle cx="259.2" cy="221.8" r="2.7"/><circle cx="264.6" cy="275" r="2.7"/><circle cx="270.1" cy="219.6" r="2.7"/><circle cx="275.5" cy="239.2" r="2.7"/><circle cx="281" cy="241.5" r="2.7"/><circle cx="286.4" cy="224.5" r="2.7"/><circle cx="291.9" cy="244.8" r="2.7"/><circle cx="297.4" cy="237.4" r="2.7"/><circle cx="302.8" cy="240.1" r="2.7"/><circle cx="308.3" cy="231.4" r="2.7"/><circle cx="313.7" cy="240.2" r="2.7"/><circle cx="319.2" cy="245.2" r="2.7"/><circle cx="324.6" cy="244.5" r="2.7"/><circle cx="330.1" cy="238.8" r="2.7"/><circle cx="335.5" cy="244.2" r="2.7"/><circle cx="341" cy="243.5" r="2.7"/><circle cx="346.4" cy="238.2" r="2.7"/><circle cx="351.9" cy="242.4" r="2.7"/><circle cx="357.4" cy="242.6" r="2.7"/><circle cx="362.8" cy="240.7" r="2.7"/><circle cx="368.3" cy="237.4" r="2.7"/><circle cx="373.7" cy="233.8" r="2.7"/><circle cx="379.2" cy="243.8" r="2.7"/><circle cx="384.5" cy="238.8" r="2.7"/><circle cx="390" cy="236" r="2.7"/><circle cx="395.5" cy="237.5" r="2.7"/><circle cx="400.9" cy="244.5" r="2.7"/><circle cx="406.4" cy="236.3" r="2.7"/><circle cx="411.8" cy="248.3" r="2.7"/><circle cx="417.3" cy="263.5" r="2.7"/><circle cx="422.7" cy="266.3" r="2.7"/><circle cx="428.2" cy="253.7" r="2.7"/><circle cx="433.6" cy="270.1" r="2.7"/><circle cx="439.1" cy="277.2" r="2.7"/><circle cx="444.5" cy="264.9" r="2.7"/><circle cx="450" cy="279.6" r="2.7"/><circle cx="455.5" cy="273.6" r="2.7"/><circle cx="460.9" cy="277.7" r="2.7"/><circle cx="466.4" cy="286.7" r="2.7"/><circle cx="471.8" cy="287.3" r="2.7"/><circle cx="477.3" cy="286.7" r="2.7"/><circle cx="482.7" cy="300.1" r="2.7"/><circle cx="488.2" cy="296.3" r="2.7"/><circle cx="493.6" cy="296.3" r="2.7"/><circle cx="499.1" cy="300.1" r="2.7"/><circle cx="504.5" cy="306.4" r="2.7"/><circle cx="510" cy="302.8" r="2.7"/><circle cx="515.4" cy="297.4" r="2.7"/><circle cx="520.9" cy="297" r="2.7"/><circle cx="526.4" cy="294.9" r="2.7"/><circle cx="531.8" cy="303.6" r="2.7"/><circle cx="537.3" cy="307.7" r="2.7"/><circle cx="542.7" cy="320.8" r="2.7"/><circle cx="548.2" cy="315.1" r="2.7"/></g><path d="M133.1 363.8v15M130.4 363.8h5.4M130.4 378.8h5.4M138.8 341.9v15M136.1 341.9h5.4M136.1 356.9h5.4M144.5 349.3v15M141.8 349.3h5.4M141.8 364.3h5.4M150 340.6v15M147.3 340.6h5.4M147.3 355.6h5.4M155.5 322.6v15M152.8 322.6h5.4M152.8 337.6h5.4M160.9 328v15M158.2 328h5.4M158.2 343h5.4M166.4 322.6v15M163.7 322.6h5.4M163.7 337.6h5.4M171.8 320.7v15M169.1 320.7h5.4M169.1 335.7h5.4M177.3 318.5v15M174.6 318.5h5.4M174.6 333.5h5.4M182.7 313v15M180 313h5.4M180 328h5.4M188.2 302.1v15M185.5 302.1h5.4M185.5 317.1h5.4M193.6 298.3v15M190.9 298.3h5.4M190.9 313.3h5.4M199.1 302.1v15M196.4 302.1h5.4M196.4 317.1h5.4M204.5 304.9v15M201.8 304.9h5.4M201.8 319.9h5.4M210 291.2v15M207.3 291.2h5.4M207.3 306.2h5.4M215.4 309.2v15M212.7 309.2h5.4M212.7 324.2h5.4M220.9 265.6v15M218.2 265.6h5.4M218.2 280.6h5.4M226.4 278.9v15M223.7 278.9h5.4M223.7 293.9h5.4M231.8 276.7v15M229.1 276.7h5.4M229.1 291.7h5.4M237.3 284.7v15M234.6 284.7h5.4M234.6 299.7h5.4M242.7 253.9v22M240 253.9h5.4M240 275.9h5.4M248.2 210v22M245.5 210h5.4M245.5 232h5.4M253.7 228.5v22M251 228.5h5.4M251 250.5h5.4M259.2 230.5v22M256.5 230.5h5.4M256.5 252.5h5.4M264.6 228v22M261.9 228h5.4M261.9 250h5.4M270.1 232.6v22M267.4 232.6h5.4M267.4 254.6h5.4M275.5 231.8v22M272.8 231.8h5.4M272.8 253.8h5.4M281 277.6v15M278.3 277.6h5.4M278.3 292.6h5.4M286.4 278.4v15M283.7 278.4h5.4M283.7 293.4h5.4M291.9 266.9v15M289.2 266.9h5.4M289.2 281.9h5.4M297.4 272.1v15M294.7 272.1h5.4M294.7 287.1h5.4M302.8 270.2v15M300.1 270.2h5.4M300.1 285.2h5.4M308.3 272.1v15M305.6 272.1h5.4M305.6 287.1h5.4M313.7 287.9v15M311 287.9h5.4M311 302.9h5.4M319.2 279.8v15M316.5 279.8h5.4M316.5 294.8h5.4M324.6 288.5v15M321.9 288.5h5.4M321.9 303.5h5.4M330.1 269.7v15M327.4 269.7h5.4M327.4 284.7h5.4M335.5 270.2v15M332.8 270.2h5.4M332.8 285.2h5.4M341 277v15M338.3 277h5.4M338.3 292h5.4M346.4 283.3v15M343.7 283.3h5.4M343.7 298.3h5.4M351.9 287.9v15M349.2 287.9h5.4M349.2 302.9h5.4M357.4 283v15M354.7 283h5.4M354.7 298h5.4M362.8 278.4v15M360.1 278.4h5.4M360.1 293.4h5.4M368.3 279.2v15M365.6 279.2h5.4M365.6 294.2h5.4M373.7 260.7v15M371 260.7h5.4M371 275.7h5.4M379.2 285.2v15M376.5 285.2h5.4M376.5 300.2h5.4M384.5 279.8v15M381.8 279.8h5.4M381.8 294.8h5.4M390 287.4v15M387.3 287.4h5.4M387.3 302.4h5.4M395.5 283.9v15M392.8 283.9h5.4M392.8 298.9h5.4M400.9 291.2v15M398.2 291.2h5.4M398.2 306.2h5.4M406.4 268.9v15M403.7 268.9h5.4M403.7 283.9h5.4M411.8 294.8v15M409.1 294.8h5.4M409.1 309.8h5.4M417.3 292.6v15M414.6 292.6h5.4M414.6 307.6h5.4M422.7 315.2v15M420 315.2h5.4M420 330.2h5.4M428.2 301.6v15M425.5 301.6h5.4M425.5 316.6h5.4M433.6 333.8v15M430.9 333.8h5.4M430.9 348.8h5.4M439.1 323.9v15M436.4 323.9h5.4M436.4 338.9h5.4M444.5 309.8v15M441.8 309.8h5.4M441.8 324.8h5.4M450 320.1v15M447.3 320.1h5.4M447.3 335.1h5.4M455.5 331v15M452.8 331h5.4M452.8 346h5.4M460.9 338.4v15M458.2 338.4h5.4M458.2 353.4h5.4M466.4 334.3v15M463.7 334.3h5.4M463.7 349.3h5.4M471.8 345.8v15M469.1 345.8h5.4M469.1 360.8h5.4M477.3 358.3v15M474.6 358.3h5.4M474.6 373.3h5.4M482.7 347.1v15M480 347.1h5.4M480 362.1h5.4M488.2 348.5v15M485.5 348.5h5.4M485.5 363.5h5.4M493.6 330.9v15M490.9 330.9h5.4M490.9 345.9h5.4M499.1 330.9v15M496.4 330.9h5.4M496.4 345.9h5.4M504.5 334.6v15M501.8 334.6h5.4M501.8 349.6h5.4M510 346.9v15M507.3 346.9h5.4M507.3 361.9h5.4M515.4 366.2v15M512.7 366.2h5.4M512.7 381.2h5.4M520.9 355.6v15M518.2 355.6h5.4M518.2 370.6h5.4M526.4 332.1v15M523.7 332.1h5.4M523.7 347.1h5.4M531.8 349.9v15M529.1 349.9h5.4M529.1 364.9h5.4M537.3 355.6v15M534.6 355.6h5.4M534.6 370.6h5.4M542.7 347.4v15M540 347.4h5.4M540 362.4h5.4M548.2 305.4v32M545.5 305.4h5.4M545.5 337.4h5.4" stroke="#5aae35" stroke-opacity="0.55" stroke-width="1.1" fill="none"/><g fill="#5ba93a"><circle cx="133.1" cy="371.3" r="2.7"/><circle cx="138.8" cy="349.4" r="2.7"/><circle cx="144.5" cy="356.8" r="2.7"/><circle cx="150" cy="348.1" r="2.7"/><circle cx="155.5" cy="330.1" r="2.7"/><circle cx="160.9" cy="335.5" r="2.7"/><circle cx="166.4" cy="330.1" r="2.7"/><circle cx="171.8" cy="328.2" r="2.7"/><circle cx="177.3" cy="326" r="2.7"/><circle cx="182.7" cy="320.5" r="2.7"/><circle cx="188.2" cy="309.6" r="2.7"/><circle cx="193.6" cy="305.8" r="2.7"/><circle cx="199.1" cy="309.6" r="2.7"/><circle cx="204.5" cy="312.4" r="2.7"/><circle cx="210" cy="298.7" r="2.7"/><circle cx="215.4" cy="316.7" r="2.7"/><circle cx="220.9" cy="273.1" r="2.7"/><circle cx="226.4" cy="286.4" r="2.7"/><circle cx="231.8" cy="284.2" r="2.7"/><circle cx="237.3" cy="292.2" r="2.7"/><circle cx="242.7" cy="264.9" r="2.7"/><circle cx="248.2" cy="221" r="2.7"/><circle cx="253.7" cy="239.5" r="2.7"/><circle cx="259.2" cy="241.5" r="2.7"/><circle cx="264.6" cy="239" r="2.7"/><circle cx="270.1" cy="243.6" r="2.7"/><circle cx="275.5" cy="242.8" r="2.7"/><circle cx="281" cy="285.1" r="2.7"/><circle cx="286.4" cy="285.9" r="2.7"/><circle cx="291.9" cy="274.4" r="2.7"/><circle cx="297.4" cy="279.6" r="2.7"/><circle cx="302.8" cy="277.7" r="2.7"/><circle cx="308.3" cy="279.6" r="2.7"/><circle cx="313.7" cy="295.4" r="2.7"/><circle cx="319.2" cy="287.3" r="2.7"/><circle cx="324.6" cy="296" r="2.7"/><circle cx="330.1" cy="277.2" r="2.7"/><circle cx="335.5" cy="277.7" r="2.7"/><circle cx="341" cy="284.5" r="2.7"/><circle cx="346.4" cy="290.8" r="2.7"/><circle cx="351.9" cy="295.4" r="2.7"/><circle cx="357.4" cy="290.5" r="2.7"/><circle cx="362.8" cy="285.9" r="2.7"/><circle cx="368.3" cy="286.7" r="2.7"/><circle cx="373.7" cy="268.2" r="2.7"/><circle cx="379.2" cy="292.7" r="2.7"/><circle cx="384.5" cy="287.3" r="2.7"/><circle cx="390" cy="294.9" r="2.7"/><circle cx="395.5" cy="291.4" r="2.7"/><circle cx="400.9" cy="298.7" r="2.7"/><circle cx="406.4" cy="276.4" r="2.7"/><circle cx="411.8" cy="302.3" r="2.7"/><circle cx="417.3" cy="300.1" r="2.7"/><circle cx="422.7" cy="322.7" r="2.7"/><circle cx="428.2" cy="309.1" r="2.7"/><circle cx="433.6" cy="341.3" r="2.7"/><circle cx="439.1" cy="331.4" r="2.7"/><circle cx="444.5" cy="317.3" r="2.7"/><circle cx="450" cy="327.6" r="2.7"/><circle cx="455.5" cy="338.5" r="2.7"/><circle cx="460.9" cy="345.9" r="2.7"/><circle cx="466.4" cy="341.8" r="2.7"/><circle cx="471.8" cy="353.3" r="2.7"/><circle cx="477.3" cy="365.8" r="2.7"/><circle cx="482.7" cy="354.6" r="2.7"/><circle cx="488.2" cy="356" r="2.7"/><circle cx="493.6" cy="338.4" r="2.7"/><circle cx="499.1" cy="338.4" r="2.7"/><circle cx="504.5" cy="342.1" r="2.7"/><circle cx="510" cy="354.4" r="2.7"/><circle cx="515.4" cy="373.7" r="2.7"/><circle cx="520.9" cy="363.1" r="2.7"/><circle cx="526.4" cy="339.6" r="2.7"/><circle cx="531.8" cy="357.4" r="2.7"/><circle cx="537.3" cy="363.1" r="2.7"/><circle cx="542.7" cy="354.9" r="2.7"/><circle cx="548.2" cy="321.4" r="2.7"/></g><path d="M133.1 430.2v13M130.4 430.2h5.4M130.4 443.2h5.4M138.8 415.8v13M136.1 415.8h5.4M136.1 428.8h5.4M144.5 421.8v13M141.8 421.8h5.4M141.8 434.8h5.4M150 413v13M147.3 413h5.4M147.3 426h5.4M155.5 405.4v13M152.8 405.4h5.4M152.8 418.4h5.4M160.9 404v13M158.2 404h5.4M158.2 417h5.4M166.4 404.8v13M163.7 404.8h5.4M163.7 417.8h5.4M171.8 399.4v13M169.1 399.4h5.4M169.1 412.4h5.4M177.3 401.3v13M174.6 401.3h5.4M174.6 414.3h5.4M182.7 387.9v13M180 387.9h5.4M180 400.9h5.4M188.2 388.5v13M185.5 388.5h5.4M185.5 401.5h5.4M193.6 389.8v13M190.9 389.8h5.4M190.9 402.8h5.4M199.1 379.8v13M196.4 379.8h5.4M196.4 392.8h5.4M204.5 368.8v13M201.8 368.8h5.4M201.8 381.8h5.4M210 368.8v13M207.3 368.8h5.4M207.3 381.8h5.4M215.4 362.6v13M212.7 362.6h5.4M212.7 375.6h5.4M220.9 368.8v13M218.2 368.8h5.4M218.2 381.8h5.4M226.4 359v13M223.7 359h5.4M223.7 372h5.4M231.8 360.4v13M229.1 360.4h5.4M229.1 373.4h5.4M237.3 354.9v13M234.6 354.9h5.4M234.6 367.9h5.4M242.7 307.4v24M240 307.4h5.4M240 331.4h5.4M248.2 291.1v24M245.5 291.1h5.4M245.5 315.1h5.4M253.7 340.1v24M251 340.1h5.4M251 364.1h5.4M259.2 308v24M256.5 308h5.4M256.5 332h5.4M264.6 327.6v24M261.9 327.6h5.4M261.9 351.6h5.4M270.1 304.4v24M267.4 304.4h5.4M267.4 328.4h5.4M275.5 339.9v24M272.8 339.9h5.4M272.8 363.9h5.4M281 330.7v13M278.3 330.7h5.4M278.3 343.7h5.4M286.4 351.1v13M283.7 351.1h5.4M283.7 364.1h5.4M291.9 353v13M289.2 353h5.4M289.2 366h5.4M297.4 348.1v13M294.7 348.1h5.4M294.7 361.1h5.4M302.8 349.8v13M300.1 349.8h5.4M300.1 362.8h5.4M308.3 346.8v13M305.6 346.8h5.4M305.6 359.8h5.4M313.7 353v13M311 353h5.4M311 366h5.4M319.2 352.5v13M316.5 352.5h5.4M316.5 365.5h5.4M324.6 354.4v13M321.9 354.4h5.4M321.9 367.4h5.4M330.1 353.9v13M327.4 353.9h5.4M327.4 366.9h5.4M335.5 350.9v13M332.8 350.9h5.4M332.8 363.9h5.4M341 345.7v13M338.3 345.7h5.4M338.3 358.7h5.4M346.4 362.6v13M343.7 362.6h5.4M343.7 375.6h5.4M351.9 351.1v13M349.2 351.1h5.4M349.2 364.1h5.4M357.4 355.8v13M354.7 355.8h5.4M354.7 368.8h5.4M362.8 351.1v13M360.1 351.1h5.4M360.1 364.1h5.4M368.3 350.9v13M365.6 350.9h5.4M365.6 363.9h5.4M373.7 345.4v13M371 345.4h5.4M371 358.4h5.4M379.2 347.8v13M376.5 347.8h5.4M376.5 360.8h5.4M384.5 355.8v13M381.8 355.8h5.4M381.8 368.8h5.4M390 351.1v13M387.3 351.1h5.4M387.3 364.1h5.4M395.5 350.9v13M392.8 350.9h5.4M392.8 363.9h5.4M400.9 359.3v13M398.2 359.3h5.4M398.2 372.3h5.4M406.4 344.9v13M403.7 344.9h5.4M403.7 357.9h5.4M411.8 351.7v13M409.1 351.7h5.4M409.1 364.7h5.4M417.3 351.7v13M414.6 351.7h5.4M414.6 364.7h5.4M422.7 372.7v13M420 372.7h5.4M420 385.7h5.4M428.2 367.2v13M425.5 367.2h5.4M425.5 380.2h5.4M433.6 370.8v13M430.9 370.8h5.4M430.9 383.8h5.4M439.1 374.8v13M436.4 374.8h5.4M436.4 387.8h5.4M444.5 373.5v13M441.8 373.5h5.4M441.8 386.5h5.4M450 367.2v13M447.3 367.2h5.4M447.3 380.2h5.4M455.5 385.2v13M452.8 385.2h5.4M452.8 398.2h5.4M460.9 383.6v13M458.2 383.6h5.4M458.2 396.6h5.4M466.4 395.3v13M463.7 395.3h5.4M463.7 408.3h5.4M471.8 393.4v13M469.1 393.4h5.4M469.1 406.4h5.4M477.3 386.3v13M474.6 386.3h5.4M474.6 399.3h5.4M482.7 397.5v13M480 397.5h5.4M480 410.5h5.4M488.2 387.7v13M485.5 387.7h5.4M485.5 400.7h5.4M493.6 393.9v13M490.9 393.9h5.4M490.9 406.9h5.4M499.1 393.9v13M496.4 393.9h5.4M496.4 406.9h5.4M504.5 397.5v13M501.8 397.5h5.4M501.8 410.5h5.4M510 404.3v13M507.3 404.3h5.4M507.3 417.3h5.4M515.4 404.8v13M512.7 404.8h5.4M512.7 417.8h5.4M520.9 401.3v13M518.2 401.3h5.4M518.2 414.3h5.4M526.4 402.7v13M523.7 402.7h5.4M523.7 415.7h5.4M531.8 411.1v13M529.1 411.1h5.4M529.1 424.1h5.4M537.3 393.4v13M534.6 393.4h5.4M534.6 406.4h5.4M542.7 388.2v18M540 388.2h5.4M540 406.2h5.4M548.2 342.3v36M545.5 342.3h5.4M545.5 378.3h5.4" stroke="#1ea6d6" stroke-opacity="0.55" stroke-width="1.1" fill="none"/><g fill="#1183b5"><circle cx="133.1" cy="436.7" r="2.7"/><circle cx="138.8" cy="422.3" r="2.7"/><circle cx="144.5" cy="428.3" r="2.7"/><circle cx="150" cy="419.5" r="2.7"/><circle cx="155.5" cy="411.9" r="2.7"/><circle cx="160.9" cy="410.5" r="2.7"/><circle cx="166.4" cy="411.3" r="2.7"/><circle cx="171.8" cy="405.9" r="2.7"/><circle cx="177.3" cy="407.8" r="2.7"/><circle cx="182.7" cy="394.4" r="2.7"/><circle cx="188.2" cy="395" r="2.7"/><circle cx="193.6" cy="396.3" r="2.7"/><circle cx="199.1" cy="386.3" r="2.7"/><circle cx="204.5" cy="375.3" r="2.7"/><circle cx="210" cy="375.3" r="2.7"/><circle cx="215.4" cy="369.1" r="2.7"/><circle cx="220.9" cy="375.3" r="2.7"/><circle cx="226.4" cy="365.5" r="2.7"/><circle cx="231.8" cy="366.9" r="2.7"/><circle cx="237.3" cy="361.4" r="2.7"/><circle cx="242.7" cy="319.4" r="2.7"/><circle cx="248.2" cy="303.1" r="2.7"/><circle cx="253.7" cy="352.1" r="2.7"/><circle cx="259.2" cy="320" r="2.7"/><circle cx="264.6" cy="339.6" r="2.7"/><circle cx="270.1" cy="316.4" r="2.7"/><circle cx="275.5" cy="351.9" r="2.7"/><circle cx="281" cy="337.2" r="2.7"/><circle cx="286.4" cy="357.6" r="2.7"/><circle cx="291.9" cy="359.5" r="2.7"/><circle cx="297.4" cy="354.6" r="2.7"/><circle cx="302.8" cy="356.3" r="2.7"/><circle cx="308.3" cy="353.3" r="2.7"/><circle cx="313.7" cy="359.5" r="2.7"/><circle cx="319.2" cy="359" r="2.7"/><circle cx="324.6" cy="360.9" r="2.7"/><circle cx="330.1" cy="360.4" r="2.7"/><circle cx="335.5" cy="357.4" r="2.7"/><circle cx="341" cy="352.2" r="2.7"/><circle cx="346.4" cy="369.1" r="2.7"/><circle cx="351.9" cy="357.6" r="2.7"/><circle cx="357.4" cy="362.3" r="2.7"/><circle cx="362.8" cy="357.6" r="2.7"/><circle cx="368.3" cy="357.4" r="2.7"/><circle cx="373.7" cy="351.9" r="2.7"/><circle cx="379.2" cy="354.3" r="2.7"/><circle cx="384.5" cy="362.3" r="2.7"/><circle cx="390" cy="357.6" r="2.7"/><circle cx="395.5" cy="357.4" r="2.7"/><circle cx="400.9" cy="365.8" r="2.7"/><circle cx="406.4" cy="351.4" r="2.7"/><circle cx="411.8" cy="358.2" r="2.7"/><circle cx="417.3" cy="358.2" r="2.7"/><circle cx="422.7" cy="379.2" r="2.7"/><circle cx="428.2" cy="373.7" r="2.7"/><circle cx="433.6" cy="377.3" r="2.7"/><circle cx="439.1" cy="381.3" r="2.7"/><circle cx="444.5" cy="380" r="2.7"/><circle cx="450" cy="373.7" r="2.7"/><circle cx="455.5" cy="391.7" r="2.7"/><circle cx="460.9" cy="390.1" r="2.7"/><circle cx="466.4" cy="401.8" r="2.7"/><circle cx="471.8" cy="399.9" r="2.7"/><circle cx="477.3" cy="392.8" r="2.7"/><circle cx="482.7" cy="404" r="2.7"/><circle cx="488.2" cy="394.2" r="2.7"/><circle cx="493.6" cy="400.4" r="2.7"/><circle cx="499.1" cy="400.4" r="2.7"/><circle cx="504.5" cy="404" r="2.7"/><circle cx="510" cy="410.8" r="2.7"/><circle cx="515.4" cy="411.3" r="2.7"/><circle cx="520.9" cy="407.8" r="2.7"/><circle cx="526.4" cy="409.2" r="2.7"/><circle cx="531.8" cy="417.6" r="2.7"/><circle cx="537.3" cy="399.9" r="2.7"/><circle cx="542.7" cy="397.2" r="2.7"/><circle cx="548.2" cy="360.3" r="2.7"/></g>
<line x1="392.7" y1="8.3" x2="392.7" y2="480" stroke="#000" stroke-width="1.8" stroke-dasharray="7.5 7.5"/>
<rect x="108.6" y="4.4" width="469.1" height="476.1" fill="none" stroke="#000" stroke-width="2.4"/>
<text transform="translate(75.72,15.14) scale(1.1042,1.0431)" font-size="18" font-weight="bold" fill="#000" >4.0</text><text transform="translate(75.13,89.46) scale(1.1333,0.9725)" font-size="18" font-weight="bold" fill="#000" >3.5</text><text transform="translate(75.13,169.34) scale(1.1368,1.0431)" font-size="18" font-weight="bold" fill="#000" >3.0</text><text transform="translate(74.85,248.84) scale(1.1368,1.0431)" font-size="18" font-weight="bold" fill="#000" >2.5</text><text transform="translate(74.84,328.24) scale(1.1489,1.0431)" font-size="18" font-weight="bold" fill="#000" >2.0</text><text transform="translate(75.33,407.44) scale(1.0925,1.0480)" font-size="18" font-weight="bold" fill="#000" >1.5</text><text transform="translate(75.09,479.75) scale(1.1304,1.0196)" font-size="18" font-weight="bold" fill="#000" >1.0</text><text transform="translate(119.84,504.74) scale(1.1111,1.0431)" font-size="18" font-weight="bold" fill="#000" >8</text><text transform="translate(201.62,504.74) scale(1.1765,1.0431)" font-size="18" font-weight="bold" fill="#000" >9</text><text transform="translate(278.61,504.74) scale(1.1111,1.0431)" font-size="18" font-weight="bold" fill="#000" >10</text><text transform="translate(360.36,505.00) scale(1.3103,1.0857)" font-size="18" font-weight="bold" fill="#000" >11</text><text transform="translate(442.91,505.00) scale(1.1111,1.0640)" font-size="18" font-weight="bold" fill="#000" >12</text><text transform="translate(525.21,504.74) scale(1.1111,1.0431)" font-size="18" font-weight="bold" fill="#000" >13</text><text transform="translate(263.25,524.94) scale(1.0597,1.0141)" font-size="19" font-weight="bold" fill="#000" >Wavelength (<tspan font-weight="normal">μ</tspan>m)</text><text transform="translate(59.59,342.16) rotate(-90) scale(0.9279,1.0022)" font-size="20.4" font-weight="bold" fill="#000" >F<tspan font-size="12.5" font-weight="normal" dy="4.5">λ</tspan><tspan dy="-4.5"> (W cm</tspan><tspan font-size="13" dy="-9.2">-2</tspan><tspan dy="9.2"> </tspan><tspan font-weight="normal">μ</tspan><tspan>m</tspan><tspan font-size="13" dy="-9.2">-1</tspan><tspan dy="9.2">) x 10</tspan><tspan font-size="13" dy="-9.2">-18</tspan></text><text transform="translate(248.36,36.25) scale(0.8519,1.0182)" font-size="19.5" font-weight="bold" fill="#000" stroke="#000" stroke-width="0.7">O</text><text transform="translate(264.20,40.27) scale(1.1818,0.9375)" font-size="11" font-weight="bold" fill="#000" stroke="#000" stroke-width="0.3">3</text><text transform="translate(511.04,43.36) scale(0.9703,0.9767)" font-size="23" font-weight="normal" fill="#000" >(a)</text>
<path d="M108.3 895.7v-7M108.3 554.6v7M155.23 895.7v-3.2M155.23 554.6v3.2M182.68 895.7v-3.2M182.68 554.6v3.2M202.16 895.7v-3.2M202.16 554.6v3.2M217.27 895.7v-3.2M217.27 554.6v3.2M229.61 895.7v-3.2M229.61 554.6v3.2M240.05 895.7v-3.2M240.05 554.6v3.2M249.09 895.7v-3.2M249.09 554.6v3.2M257.07 895.7v-3.2M257.07 554.6v3.2M264.2 895.7v-7M264.2 554.6v7M311.13 895.7v-3.2M311.13 554.6v3.2M338.58 895.7v-3.2M338.58 554.6v3.2M358.06 895.7v-3.2M358.06 554.6v3.2M373.17 895.7v-3.2M373.17 554.6v3.2M385.51 895.7v-3.2M385.51 554.6v3.2M395.95 895.7v-3.2M395.95 554.6v3.2M404.99 895.7v-3.2M404.99 554.6v3.2M412.97 895.7v-3.2M412.97 554.6v3.2M420.1 895.7v-7M420.1 554.6v7M467.03 895.7v-3.2M467.03 554.6v3.2M494.48 895.7v-3.2M494.48 554.6v3.2M513.96 895.7v-3.2M513.96 554.6v3.2M529.07 895.7v-3.2M529.07 554.6v3.2M541.41 895.7v-3.2M541.41 554.6v3.2M551.85 895.7v-3.2M551.85 554.6v3.2M560.89 895.7v-3.2M560.89 554.6v3.2M568.87 895.7v-3.2M568.87 554.6v3.2M108.3 895.7h9M576 895.7h-9M108.3 861.47h4.8M576 861.47h-4.8M108.3 841.45h4.8M576 841.45h-4.8M108.3 827.25h4.8M576 827.25h-4.8M108.3 816.23h4.8M576 816.23h-4.8M108.3 807.22h4.8M576 807.22h-4.8M108.3 799.61h4.8M576 799.61h-4.8M108.3 793.02h4.8M576 793.02h-4.8M108.3 787.2h4.8M576 787.2h-4.8M108.3 782h9M576 782h-9M108.3 747.77h4.8M576 747.77h-4.8M108.3 727.75h4.8M576 727.75h-4.8M108.3 713.55h4.8M576 713.55h-4.8M108.3 702.53h4.8M576 702.53h-4.8M108.3 693.52h4.8M576 693.52h-4.8M108.3 685.91h4.8M576 685.91h-4.8M108.3 679.32h4.8M576 679.32h-4.8M108.3 673.5h4.8M576 673.5h-4.8M108.3 668.3h9M576 668.3h-9M108.3 634.07h4.8M576 634.07h-4.8M108.3 614.05h4.8M576 614.05h-4.8M108.3 599.85h4.8M576 599.85h-4.8M108.3 588.83h4.8M576 588.83h-4.8M108.3 579.82h4.8M576 579.82h-4.8M108.3 572.21h4.8M576 572.21h-4.8M108.3 565.62h4.8M576 565.62h-4.8M108.3 559.8h4.8M576 559.8h-4.8" stroke="#000" stroke-width="1.5" fill="none"/>
<path d="M184.75 895.5C185 893.75 185.62 888.5 186.25 885C186.88 881.5 187.75 877.62 188.5 874.5C189.25 871.38 189.75 868.38 190.75 866.25C191.75 864.12 193.5 863.38 194.5 861.75C195.5 860.12 196 858.62 196.75 856.5C197.5 854.38 198.38 852 199 849C199.62 846 200 842 200.5 838.5C201 835 201.38 830.25 202 828C202.62 825.75 203.5 826.25 204.25 825C205 823.75 205.88 822.25 206.5 820.5C207.12 818.75 207.5 816.5 208 814.5C208.5 812.5 208.88 809.62 209.5 808.5C210.12 807.38 210.75 808.12 211.75 807.75C212.75 807.38 214.12 807.12 215.5 806.25C216.88 805.38 218.5 803.67 220 802.5C221.5 801.33 223 800.03 224.5 799.2C226 798.37 227.42 797.9 229 797.5C230.58 797.1 232.17 797 234 796.8C235.83 796.6 237.33 795.77 240 796.3C242.67 796.83 246.67 798.68 250 800C253.33 801.32 256.67 802.67 260 804.2C263.33 805.73 266.67 807.27 270 809.2C273.33 811.13 276.67 813.58 280 815.8C283.33 818.02 286.67 820 290 822.5C293.33 825 296.67 827.05 300 830.8C303.33 834.55 307.33 840.97 310 845C312.67 849.03 314 851.42 316 855C318 858.58 321 864.58 322 866.5" stroke="#000" stroke-width="1.7" fill="none" stroke-linejoin="round"/><path d="M316 855C317 856.92 319.77 862.48 322 866.5C324.23 870.52 327.3 876.52 329.4 879.1C331.5 881.68 333 881.63 334.6 882C336.2 882.37 337.67 882.77 339 881.3C340.33 879.83 341.25 876.5 342.6 873.2C343.95 869.9 345.62 866.15 347.1 861.5C348.58 856.85 350.03 851.18 351.5 845.3C352.97 839.42 354.43 832.33 355.9 826.2C357.37 820.07 358.83 815.12 360.3 808.5C361.77 801.88 363.08 794.58 364.7 786.5C366.32 778.42 368.28 767.42 370 760C371.72 752.58 373.33 747.67 375 742C376.67 736.33 378.33 731 380 726C381.67 721 383.33 716.5 385 712C386.67 707.5 388.33 702.83 390 699C391.67 695.17 393.33 692.33 395 689C396.67 685.67 398.33 682 400 679C401.67 676 403.33 673.5 405 671C406.67 668.5 408.33 666.17 410 664C411.67 661.83 413.33 659.83 415 658C416.67 656.17 418.33 654.33 420 653C421.67 651.67 423.33 650.63 425 650C426.67 649.37 428.05 648.9 430 649.2C431.95 649.5 434.47 650.82 436.7 651.8C438.93 652.78 441.15 653.85 443.4 655.1C445.65 656.35 447.95 657.75 450.2 659.3C452.45 660.85 454.67 662.57 456.9 664.4C459.13 666.23 461.37 667.92 463.6 670.3C465.83 672.68 468.33 676.33 470.3 678.7C472.27 681.07 473.72 682.4 475.4 684.5C477.08 686.6 478.72 688.77 480.4 691.3C482.08 693.83 483.82 696.77 485.5 699.7C487.18 702.63 488.83 705.97 490.5 708.9C492.17 711.83 493.82 714.22 495.5 717.3C497.18 720.38 498.92 724.03 500.6 727.4C502.28 730.77 504.12 734.57 505.6 737.5C507.08 740.43 508.2 742.5 509.5 745C510.8 747.5 511.35 748.28 513.4 752.5C515.45 756.72 518.98 764.38 521.8 770.3C524.62 776.22 527.4 781.88 530.3 788C533.2 794.12 536.2 800.72 539.2 807C542.2 813.28 545.32 819.5 548.3 825.7C551.28 831.9 554.23 838.03 557.1 844.2C559.97 850.37 562.97 856.82 565.5 862.7C568.03 868.58 570.55 874.87 572.3 879.5C574.05 884.13 575.38 888.67 576 890.5" stroke="#000" stroke-width="1.7" fill="none" stroke-linejoin="round"/><path d="M316 855C317 856.92 319.67 862.33 322 866.5C324.33 870.67 327.42 875.2 330 880C332.58 884.8 336.25 892.75 337.5 895.3" stroke="#000" stroke-width="1.5" fill="none" stroke-linejoin="round"/><path d="M345.7 895.5C346.5 891.55 349.03 879.38 350.5 871.8C351.97 864.22 353.15 857.27 354.5 850C355.85 842.73 357.23 835.47 358.6 828.2C359.97 820.93 361.33 813.68 362.7 806.4C364.07 799.12 365.58 791.23 366.8 784.5C368.02 777.77 368.63 772.75 370 766C371.37 759.25 373.33 750.33 375 744C376.67 737.67 378.33 732.92 380 728C381.67 723.08 383.33 718.83 385 714.5C386.67 710.17 388.33 705.92 390 702C391.67 698.08 393.33 694.5 395 691C396.67 687.5 398.33 683.67 400 681C401.67 678.33 403.33 676.83 405 675C406.67 673.17 408.33 671.5 410 670C411.67 668.5 413.33 667.23 415 666C416.67 664.77 418.33 663.43 420 662.6C421.67 661.77 423.33 661.38 425 661C426.67 660.62 428.33 660.37 430 660.3C431.67 660.23 433.32 660.35 435 660.6C436.68 660.85 438.13 660.75 440.1 661.8C442.07 662.85 444.57 664.93 446.8 666.9C449.03 668.87 451.25 671.37 453.5 673.6C455.75 675.83 458.05 678.05 460.3 680.3C462.55 682.55 464.77 684.78 467 687.1C469.23 689.42 471.47 691.68 473.7 694.2C475.93 696.72 478.17 698.97 480.4 702.2C482.63 705.43 484.85 709.72 487.1 713.6C489.35 717.48 491.65 721.52 493.9 725.5C496.15 729.48 498.42 733.42 500.6 737.5C502.78 741.58 504.93 745.83 507 750C509.07 754.17 511.08 758.5 513 762.5C514.92 766.5 516.18 769.07 518.5 774C520.82 778.93 524.1 786 526.9 792.1C529.7 798.2 532.5 804.72 535.3 810.6C538.1 816.48 540.9 821.8 543.7 827.4C546.5 833 549.3 838.6 552.1 844.2C554.9 849.8 557.7 855.4 560.5 861C563.3 866.6 566.32 872.38 568.9 877.8C571.48 883.22 574.82 890.88 576 893.5" stroke="#8b5a1b" stroke-width="1.5" fill="none" stroke-linejoin="round"/><path d="M377.2 895.5C377.97 892.92 379.22 886.68 381.8 880C384.38 873.32 389.67 862.07 392.7 855.4C395.73 848.73 398.23 843.95 400 840C401.77 836.05 402.33 835.03 403.3 831.7C404.27 828.37 405.1 825.28 405.8 820C406.5 814.72 406.93 806.12 407.5 800C408.07 793.88 408.53 788.63 409.2 783.3C409.87 777.97 410.62 772.55 411.5 768C412.38 763.45 413.42 759.17 414.5 756C415.58 752.83 416.75 750.58 418 749C419.25 747.42 420.75 746.72 422 746.5C423.25 746.28 424.02 746.37 425.5 747.7C426.98 749.03 429.48 752.7 430.9 754.5C432.32 756.3 433.08 757.13 434 758.5C434.92 759.87 435.32 761.77 436.4 762.7C437.48 763.63 438.68 763.87 440.5 764.1C442.32 764.33 445.48 764.78 447.3 764.1C449.12 763.42 450.03 761.13 451.4 760C452.77 758.87 454.15 757.3 455.5 757.3C456.85 757.3 458.15 758.82 459.5 760C460.85 761.18 462.07 762.27 463.6 764.4C465.13 766.53 467.02 770.15 468.7 772.8C470.38 775.45 472.03 777.65 473.7 780.3C475.37 782.95 477.02 785.9 478.7 788.7C480.38 791.5 481.6 793.38 483.8 797.1C486 800.82 489.2 806.23 491.9 811C494.6 815.77 497.25 820.73 500 825.7C502.75 830.67 505.6 835.48 508.4 840.8C511.2 846.12 514 851.98 516.8 857.6C519.6 863.22 523.08 869.93 525.2 874.5C527.32 879.07 528.33 881.5 529.5 885C530.67 888.5 531.75 893.75 532.2 895.5" stroke="#7b1a8c" stroke-width="1.5" fill="none" stroke-linejoin="round"/><path d="M400.8 895.5C401.08 890.13 401.8 873.1 402.5 863.3C403.2 853.5 404.03 843.92 405 836.7C405.97 829.48 407.05 824.73 408.3 820C409.55 815.27 411.1 811.22 412.5 808.3C413.9 805.38 415.32 803.67 416.7 802.5C418.08 801.33 419.42 801.3 420.8 801.3C422.18 801.3 423.6 801.75 425 802.5C426.4 803.25 427.82 804.27 429.2 805.8C430.58 807.33 431.78 809.62 433.3 811.7C434.82 813.78 436.63 816.97 438.3 818.3C439.97 819.63 441.48 819.28 443.3 819.7C445.12 820.12 447.53 821.17 449.2 820.8C450.87 820.43 451.92 818.33 453.3 817.5C454.68 816.67 456.1 815.67 457.5 815.8C458.9 815.93 460.17 816.77 461.7 818.3C463.23 819.83 465.03 822.5 466.7 825C468.37 827.5 470.03 830.52 471.7 833.3C473.37 836.08 475.03 838.92 476.7 841.7C478.37 844.48 480.03 847.23 481.7 850C483.37 852.77 485.03 855.52 486.7 858.3C488.37 861.08 490.03 863.83 491.7 866.7C493.37 869.57 495.02 872.37 496.7 875.5C498.38 878.63 500.08 882.17 501.8 885.5C503.52 888.83 506.13 893.83 507 895.5" stroke="#1e5c1e" stroke-width="1.5" fill="none" stroke-linejoin="round"/><path d="M414.7 895.8 L416.7 861.7 L418.7 828.3 L420 811.7 L422.2 825 L424.2 830.8 L425.8 811.7 L427.8 787.5 L429.2 811.7 L430.5 845 L432.5 863.3 L434.2 895.8" stroke="#e8221f" stroke-width="1.5" fill="none" stroke-linejoin="round" /><path d="M450 895.8 L451.7 870 L453.8 858.3 L455.8 895.8" stroke="#e8221f" stroke-width="1.5" fill="none" stroke-linejoin="round" /><path d="M457.5 895.8 L460 858.3 L462 843.3 L465 827.5 L467.2 860 L470 875 L473.3 888.3 L475.8 856.7 L477.5 841.7 L479.5 830.8 L481.7 850 L483.8 883.3 L485.3 895.8" stroke="#e8221f" stroke-width="1.5" fill="none" stroke-linejoin="round" /><path d="M234.2 794.2 L234.6 799.5 L235.2 798.55 L236 797.93 L236.8 798.79 L237.6 797.28 L238.4 798.06 L239.2 797.44 L240 796.53 L240.8 797.91 L241.6 797.27 L242.4 798.54 L243.2 798.13 L244 798.57 L244.8 799.7 L245.6 800.98 L246.4 799.82 L247.2 800.38 L248 801.57 L248.8 802.58 L249.6 802.07 L250.4 801.97 L251.2 803.55 L252 801.81 L252.8 803.9 L253.6 802.79 L254.4 802.34 L255.2 802.16 L256 802.45 L256.8 803.44 L257.6 801.91 L258.4 802.73 L259.2 803.26 L260 803.07 L260.8 803.86 L261.6 803.19 L262.4 803.58 L263.2 804.3 L264 805.81 L264.8 805.73 L265.6 805.96 L266.4 807.03 L267.2 807.22 L268 807.36 L268.8 808.92 L269.6 809.19 L270.4 808.66 L271.2 809.87 L272 810.24 L272.8 811.49 L273.6 811.65 L274.4 811.16 L275.2 813.16 L276 811.75 L276.8 812.89 L277.6 814.12 L278.4 813.27 L279.2 814.49 L280 813.99 L280.8 814.95 L281.6 814.74 L282.4 813.9 L283.2 814.15 L284 812.5 L284.8 814.08 L285.6 815 L286.4 816.11 L287.2 816.98 L288 818.89 L288.8 820.16 L289.6 820.16 L290.4 821.61 L291.2 821.32 L292 823.76 L292.8 824.68 L293.6 826.38 L294.4 826.78 L295.2 826.37 L296 827.37 L296.8 828.77 L297.6 828.16 L298.4 829.94 L299.2 830.11 L300 830.81 L300.8 831.49 L301.6 833.86 L302.4 833.27 L303.2 834.34 L304 835.63 L304.8 837.68 L305.6 836.93 L306.4 838.73 L307.2 839.94 L308 841.67 L308.8 842.52 L309.6 843.61 L310.4 843.41 L311.2 844.9 L312 845.97 L312.8 848.32 L313.6 849.68 L314.4 849.1 L315.2 850.35 L316 851.67 L316.8 852.88 L317.6 854.78 L318.4 856.35 L319.2 856.98 L320 857.75 L320.8 860.01" stroke="#0b1a7a" stroke-width="1.2" fill="none" stroke-linejoin="round" /><path d="M321.1 852 L322.5 842.3 L323.5 846 L324.3 842.5 L325.2 843.7 L326.3 850 L327.3 862.8 L328 865.5 L328 895.5 L321.1 895.5Z" fill="#0b1a7a" stroke="#0b1a7a" stroke-width="0.6" stroke-linejoin="round"/><path d="M338.9 895.5 L339.3 834.1 L340.2 830 L341.5 833 L343 813 L344.3 811 L345.5 812 L346.6 804.8 L347.8 809 L349.1 811 L350.5 808 L351.8 804.5 L353.2 804 L354.6 801 L355.9 796.6 L357.3 789.1 L358.7 785.7 L360 783 L361.4 781.6 L362.2 782 L362 786 L360.7 793.2 L358.7 802.7 L356.6 812.3 L354.6 821.8 L352.5 830 L350.5 838.2 L347.7 851.9 L345.7 854.6 L343.6 872.3 L343.6 895.5Z" fill="#0b1a7a" stroke="#0b1a7a" stroke-width="0.6" stroke-linejoin="round"/><path d="M365 764 L367 754 L369.5 747 L371.5 740 L374 734 L377 730 L379 731 L377.5 737 L375 744 L372.5 751 L370 758 L367.5 765Z" fill="#0b1a7a" stroke="#0b1a7a" stroke-width="0.6" stroke-linejoin="round"/><path d="M397 690 L400 684 L404 675 L408 668 L412 661 L417 655 L422 650 L427 646 L430 644.5 L433 645 L437 647 L441 648 L442.5 650.5 L440 652.5 L436 650.5 L432 649.5 L428 650.5 L423 654 L418 659 L413 665 L409 672 L405 680 L401 688 L398 694Z" fill="#0b1a7a" stroke="#0b1a7a" stroke-width="0.6" stroke-linejoin="round"/><circle cx="352.5" cy="791.1" r="2.6" fill="#0b1a7a"/><circle cx="366.2" cy="761.5" r="1.5" fill="#0b1a7a"/><path d="M344.8 830V858M346.1 825V852M348.6 822V846M350.0 818V840M351.3 826V836M353.9 812V825" stroke="#fff" stroke-width="0.7" opacity="0.8"/><rect x="205.25" y="803.35" width="8.3" height="8.3" fill="none" stroke="#0b1a7a" stroke-width="1.5"/><rect x="423.3" y="659.9" width="8.2" height="8.2" fill="none" stroke="#000" stroke-width="1.5"/><path d="M427.4 651V677" stroke="#000" stroke-width="1.5"/><rect x="475.9" y="683.1" width="8.2" height="8.2" fill="none" stroke="#000" stroke-width="1.5"/><path d="M480 675.5V700" stroke="#000" stroke-width="1.5"/><rect x="493.9" y="716.5" width="8.2" height="8.2" fill="none" stroke="#000" stroke-width="1.5"/><path d="M498 705.5V741" stroke="#000" stroke-width="1.5"/><rect x="504.3" y="748.4" width="8.2" height="8.2" fill="none" stroke="#000" stroke-width="1.5"/><path d="M508.4 738V773.6" stroke="#000" stroke-width="1.5"/>
<rect x="108.3" y="554.6" width="467.7" height="341.1" fill="none" stroke="#000" stroke-width="1.6"/>
<text transform="translate(46.61,566.74) scale(1.0591,1.0323)" font-size="22" font-weight="bold" fill="#000" >10</text><text transform="translate(72.54,558.00) scale(1.0103,1.0769)" font-size="19" font-weight="bold" fill="#000" >-<tspan dx="2">11</tspan></text><text transform="translate(46.41,677.73) scale(1.0591,1.0774)" font-size="22" font-weight="bold" fill="#000" >10</text><text transform="translate(72.53,667.30) scale(1.0250,1.0038)" font-size="19" font-weight="bold" fill="#000" >-<tspan dx="2">12</tspan></text><text transform="translate(46.29,788.04) scale(1.0727,1.0323)" font-size="22" font-weight="bold" fill="#000" >10</text><text transform="translate(71.33,775.15) scale(1.0214,1.0074)" font-size="19" font-weight="bold" fill="#000" >-<tspan dx="2">13</tspan></text><text transform="translate(46.29,898.95) scale(1.0727,1.0194)" font-size="22" font-weight="bold" fill="#000" >10</text><text transform="translate(72.56,886.90) scale(0.9825,1.0462)" font-size="19" font-weight="bold" fill="#000" >-<tspan dx="2">14</tspan></text><text transform="translate(83.60,920.74) scale(1.0980,1.0323)" font-size="22" font-weight="bold" fill="#000" >0.1</text><text transform="translate(247.78,920.05) scale(1.0159,0.9871)" font-size="22" font-weight="bold" fill="#000" >1.0</text><text transform="translate(398.96,920.24) scale(1.0247,1.0323)" font-size="22" font-weight="bold" fill="#000" >10.0</text><text transform="translate(543.97,919.74) scale(1.0180,1.0323)" font-size="22" font-weight="bold" fill="#000" >100.0</text><text transform="translate(292.24,947.74) scale(1.0482,1.0585)" font-size="22" font-weight="normal" fill="#000" >λ (μm)</text><text transform="translate(20.51,790.00) rotate(-90) scale(1.2047,1.0725)" font-size="23" font-weight="normal" fill="#000" >λF<tspan font-size="11" dy="3.5">λ</tspan><tspan dy="-3.5"> (W/m</tspan><tspan font-size="13" dy="-9">2</tspan><tspan dy="9">)</tspan></text><text transform="translate(511.51,596.14) scale(0.9901,1.0233)" font-size="23" font-weight="normal" fill="#000" >(b)</text><text transform="translate(136,572.3) scale(1.05,1)" font-size="13.2" fill="#000" stroke="#000" stroke-width="0.12" textLength="148.86" lengthAdjust="spacing">DIDSY–Halley size dist.</text><text transform="translate(136,589.3) scale(1.05,1)" font-size="13.2" fill="#000" stroke="#000" stroke-width="0.12" textLength="156.19" lengthAdjust="spacing">amin=0.06, amax=70.0</text><text transform="translate(136,606) scale(1.05,1)" font-size="13.2" fill="#000" stroke="#000" stroke-width="0.12" textLength="148.29" lengthAdjust="spacing">Jena pyrmg50 &amp; ol50,</text><text transform="translate(156,622.6) scale(1.05,1)" font-size="13.2" fill="#000" stroke="#000" stroke-width="0.12" textLength="169.71" lengthAdjust="spacing">Zubko ACH2, Koike Fo100</text><text transform="translate(136,638) scale(1.05,1)" font-size="13.2" fill="#000" stroke="#000" stroke-width="0.12" textLength="56.86" lengthAdjust="spacing">Tbb=310</text><text transform="translate(183.3,713.9) scale(1.05,1)" font-size="13.2" fill="#0b1a7a" stroke="#0b1a7a" stroke-width="0.12" textLength="175.24" lengthAdjust="spacing">IRTF BASS &amp; SpeX 22 Oct.</text><text transform="translate(457,614) scale(1.0,1)" font-size="13.2" fill="#000" stroke="#000" stroke-width="0.12" textLength="102.00" lengthAdjust="spacing">SOFIA FORCAST</text><text transform="translate(464,633.5) scale(1.05,1)" font-size="13.2" fill="#000" stroke="#000" stroke-width="0.12" textLength="73.33" lengthAdjust="spacing">3 &amp; 7 Dec.</text>
<path d="M75.92 409.14 L79.81 409.14 L79.81 405.33 L75.92 405.33ZM82.70 409.14 L86.34 409.14 L86.34 405.33 L82.70 405.33ZM75.70 481.40 L79.73 481.40 L79.73 477.69 L75.70 477.69ZM82.72 481.40 L86.48 481.40 L86.48 477.69 L82.72 477.69ZM279.21 506.43 L283.17 506.43 L283.17 502.64 L279.21 502.64ZM286.11 506.43 L289.81 506.43 L289.81 502.64 L286.11 502.64ZM361.07 506.76 L365.74 506.76 L365.74 502.81 L361.07 502.81ZM369.20 506.76 L373.57 506.76 L373.57 502.81 L369.20 502.81ZM372.86 506.76 L377.53 506.76 L377.53 502.81 L372.86 502.81ZM381.00 506.76 L385.36 506.76 L385.36 502.81 L381.00 502.81ZM443.51 506.72 L447.47 506.72 L447.47 502.85 L443.51 502.85ZM450.41 506.72 L454.11 506.72 L454.11 502.85 L450.41 502.85ZM525.81 506.43 L529.77 506.43 L529.77 502.64 L525.81 502.64ZM532.71 506.43 L536.41 506.43 L536.41 502.64 L532.71 502.64ZM51.54 214.70 L51.54 212.31 L48.91 212.31 L48.91 214.70ZM51.54 210.54 L51.54 208.31 L48.91 208.31 L48.91 210.54ZM61.43 180.46 L61.43 176.72 L57.30 176.72 L57.30 180.46ZM61.43 173.93 L61.43 170.43 L57.30 170.43 L57.30 173.93ZM51.54 155.61 L51.54 153.23 L48.91 153.23 L48.91 155.61ZM51.54 151.45 L51.54 149.22 L48.91 149.22 L48.91 151.45ZM47.31 568.78 L51.92 568.78 L51.92 564.20 L47.31 564.20ZM55.35 568.78 L59.66 568.78 L59.66 564.20 L55.35 564.20ZM81.53 559.84 L85.33 559.84 L85.33 555.71 L81.53 555.71ZM88.15 559.84 L91.71 559.84 L91.71 555.71 L88.15 555.71ZM91.13 559.84 L94.93 559.84 L94.93 555.71 L91.13 555.71ZM97.75 559.84 L101.31 559.84 L101.31 555.71 L97.75 555.71ZM47.11 679.86 L51.72 679.86 L51.72 675.08 L47.11 675.08ZM55.15 679.86 L59.46 679.86 L59.46 675.08 L55.15 675.08ZM81.65 669.02 L85.51 669.02 L85.51 665.16 L81.65 665.16ZM88.37 669.02 L91.97 669.02 L91.97 665.16 L88.37 665.16ZM47.00 790.08 L51.67 790.08 L51.67 785.50 L47.00 785.50ZM55.14 790.08 L59.51 790.08 L59.51 785.50 L55.14 785.50ZM80.42 776.87 L84.26 776.87 L84.26 773.01 L80.42 773.01ZM87.12 776.87 L90.71 776.87 L90.71 773.01 L87.12 773.01ZM47.00 900.97 L51.67 900.97 L51.67 896.44 L47.00 896.44ZM55.14 900.97 L59.51 900.97 L59.51 896.44 L55.14 896.44ZM81.30 888.69 L85.00 888.69 L85.00 884.67 L81.30 884.67ZM87.74 888.69 L91.20 888.69 L91.20 884.67 L87.74 884.67ZM104.45 922.78 L109.23 922.78 L109.23 918.20 L104.45 918.20ZM112.78 922.78 L117.25 922.78 L117.25 918.20 L112.78 918.20ZM248.45 922.00 L252.88 922.00 L252.88 917.62 L248.45 917.62ZM256.16 922.00 L260.30 922.00 L260.30 917.62 L256.16 917.62ZM399.64 922.28 L404.10 922.28 L404.10 917.70 L399.64 917.70ZM407.41 922.28 L411.58 922.28 L411.58 917.70 L407.41 917.70ZM544.64 921.78 L549.08 921.78 L549.08 917.20 L544.64 917.20ZM552.37 921.78 L556.51 921.78 L556.51 917.20 L552.37 917.20ZM310.19 623.79 L313.19 623.79 L313.19 621.54 L310.19 621.54ZM314.55 623.79 L317.54 623.79 L317.54 621.54 L314.55 621.54ZM179.93 639.19 L182.92 639.19 L182.92 636.94 L179.93 636.94ZM184.28 639.19 L187.28 639.19 L187.28 636.94 L184.28 636.94Z" fill="#fff"/>
</svg>
</body></html>
